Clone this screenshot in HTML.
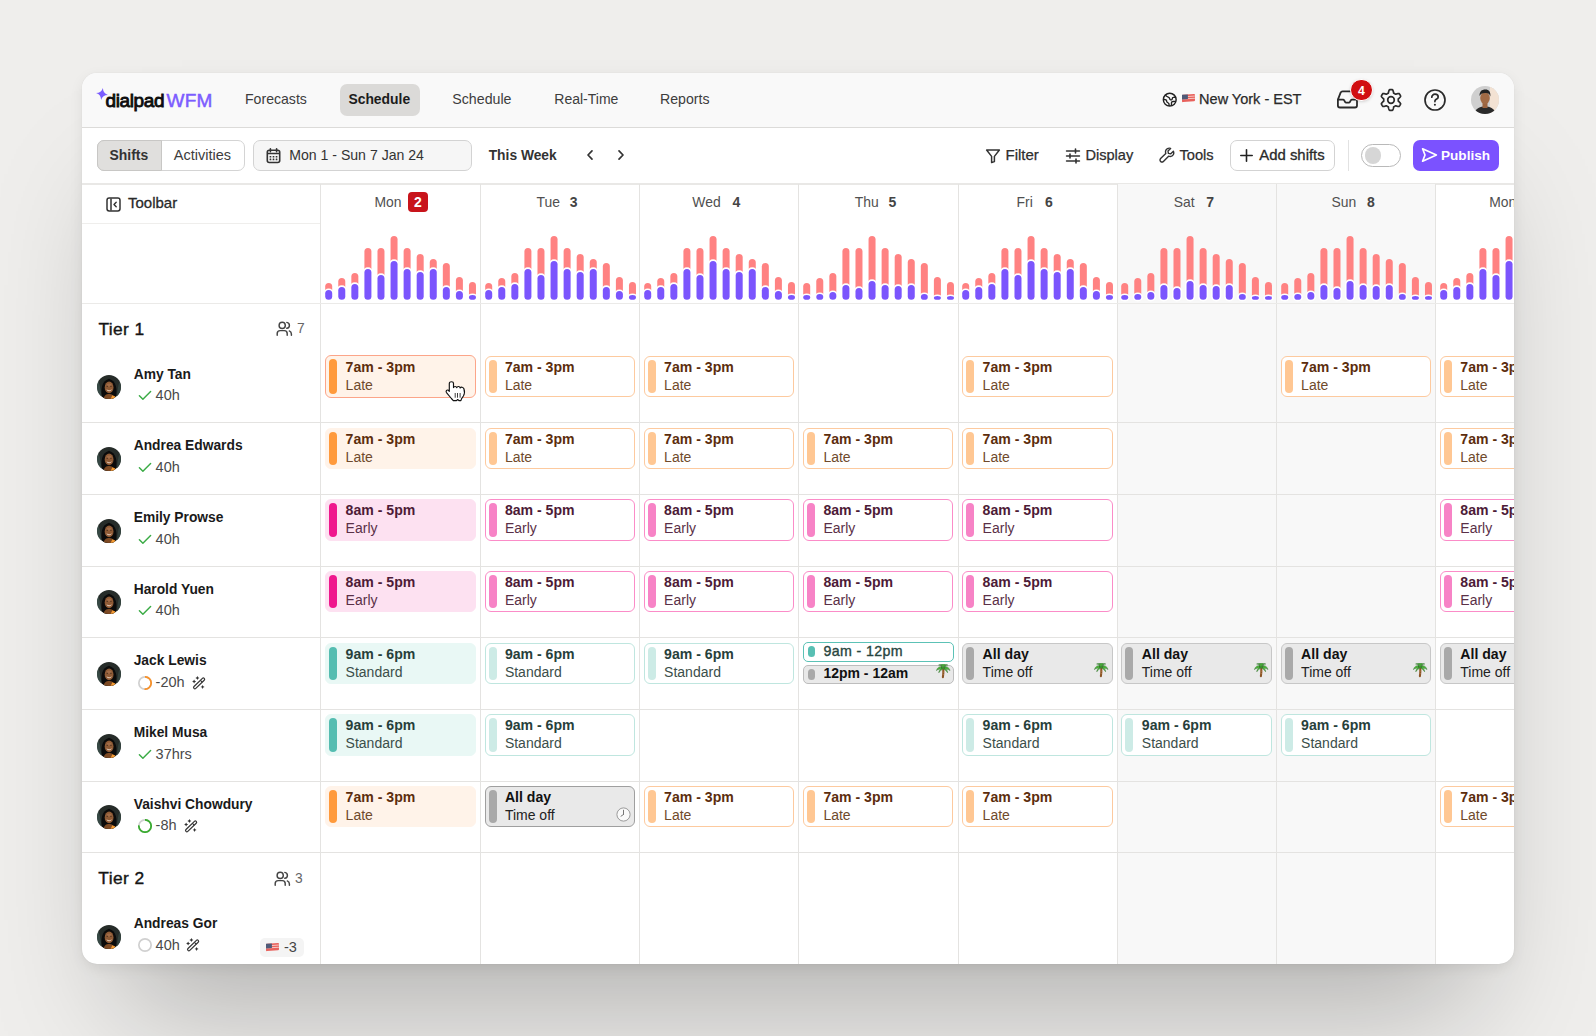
<!DOCTYPE html>
<html><head><meta charset="utf-8"><title>dialpad WFM - Schedule</title>
<style>
*{box-sizing:border-box;margin:0;padding:0}
html,body{width:1596px;height:1036px;overflow:hidden}
body{background:#efeeec;font-family:"Liberation Sans", Arial, sans-serif;color:#1f1f1f;position:relative}
.win{position:absolute;left:82px;top:72.7px;width:1432px;height:891.7px;border-radius:15px;background:#fff;overflow:hidden;
 box-shadow:0 84px 120px -40px rgba(0,0,0,.26),0 4px 14px rgba(0,0,0,.07),0 0 1px rgba(0,0,0,.14)}
.in{position:absolute;left:-82px;top:-72.7px;width:1596px;height:1036px}
.a{position:absolute;display:block}
.t{position:absolute;white-space:nowrap;line-height:1}
.card{position:absolute;border-radius:6px}
.bar{position:absolute;left:3px;top:3px;width:8px;bottom:3px;border-radius:4px}
</style></head><body>
<div class="win"><div class="in">

<div class="a" style="left:82.00px;top:70.00px;width:1432.00px;height:57.00px;background:#f9f9f9"></div>
<div class="a" style="left:82.00px;top:127.00px;width:1432.00px;height:1.00px;background:#dcdbd9"></div>
<svg class="a" style="left:96.40px;top:88.10px;" width="12" height="12" viewBox="0 0 12 12" fill="none"><path transform="rotate(9 6 6)" d="M6 0 C6.6 3.6 8.4 5.4 12 6 C8.4 6.6 6.6 8.4 6 12 C5.4 8.4 3.6 6.6 0 6 C3.6 5.4 5.4 3.6 6 0Z" fill="#7b5cff"/></svg>
<span class="t" style="left:105.6px;top:91.00px;font-size:19px;color:#0d0d0d;letter-spacing:-0.4px;-webkit-text-stroke:0.85px #0d0d0d;">dialpad</span>
<span class="t" style="left:166.6px;top:91.00px;font-size:19px;color:#7c5cff;letter-spacing:0.15px;-webkit-text-stroke:0.5px #7c5cff;">WFM</span>
<span class="t" style="left:245.0px;top:92.00px;font-size:14.1px;color:#3d3d3d;">Forecasts</span>
<div class="a" style="left:340.10px;top:84.20px;width:79.70px;height:31.60px;background:#dbdad8;border-radius:7px"></div>
<span class="t" style="left:348.4px;top:93.00px;font-size:13.9px;font-weight:700;color:#1c1c1c;">Schedule</span>
<span class="t" style="left:452.3px;top:92.00px;font-size:14.2px;color:#3d3d3d;">Schedule</span>
<span class="t" style="left:554.3px;top:92.00px;font-size:14.0px;color:#3d3d3d;">Real-Time</span>
<span class="t" style="left:660.0px;top:92.00px;font-size:14.15px;color:#3d3d3d;">Reports</span>
<svg class="a" style="left:1160.00px;top:90.00px;" width="20" height="20" viewBox="0 0 20 20" fill="none"><circle cx="9.75" cy="9.65" r="6.4" stroke="#222" stroke-width="1.45"/><path d="M5.4 4.6 C5.8 6 6.6 6.6 8.2 7.1 C9.4 7.5 9.6 8.2 9.8 9 C10 9.8 11 10.1 11.8 9.7 C12.5 9.3 12.3 8.2 12.6 7.7 C13 7.2 14 7.2 15.8 7.2" stroke="#222" stroke-width="1.35" stroke-linejoin="round"/><path d="M3.3 9.3 C4.5 9.3 5.6 9.3 6.2 10 C6.8 10.8 6.5 11.8 7.2 12.3 C8.2 13 8.8 13 9 14 L9.1 16" stroke="#222" stroke-width="1.35" stroke-linejoin="round"/><path d="M11.4 15.9 L11.5 12.6 C11.6 11.9 12.1 11.5 12.8 11.5 L15.8 11.4" stroke="#222" stroke-width="1.35" stroke-linejoin="round"/></svg>
<svg class="a" style="left:1182.30px;top:93.60px;overflow:visible" width="13" height="8.4" viewBox="0 0 13 8.4" fill="none"><g transform="skewY(-4)"><rect x="0" y="0.8" width="13" height="7.4" rx="1" fill="#e8615c"/><rect x="0" y="2.4" width="13" height="1" fill="#f6c6c0"/><rect x="0" y="4.6" width="13" height="1" fill="#f6c6c0"/><rect x="0" y="0.8" width="5.9" height="4.6" fill="#4f5a78"/></g></svg>
<span class="t" style="left:1199.1px;top:92.00px;font-size:14.5px;color:#2a2a2a;-webkit-text-stroke:0.25px #2a2a2a;">New York - EST</span>
<svg class="a" style="left:1336.00px;top:90.00px;" width="24" height="20" viewBox="0 0 24 20" fill="none"><path d="M1.9 9.6 L4.6 2.7 Q5.1 1.3 6.6 1.3 L16.4 1.3 Q17.9 1.3 18.4 2.7 L21 9.6" stroke="#2b2b2b" stroke-width="1.8" stroke-linejoin="round"/><path d="M1.9 9.6 L1.9 15.5 Q1.9 17.5 3.9 17.5 L19 17.5 Q21 17.5 21 15.5 L21 9.6 L16 9.6 Q15.2 9.6 14.8 10.4 L14 11.8 Q13.6 12.6 12.8 12.6 L10.2 12.6 Q9.4 12.6 9 11.8 L8.2 10.4 Q7.8 9.6 7 9.6 Z" stroke="#2b2b2b" stroke-width="1.8" stroke-linejoin="round"/></svg>
<div class="a" style="left:1349.90px;top:78.60px;width:22.80px;height:22.80px;background:#d10f12;border-radius:50%;border:1.6px solid #fff;box-shadow:0 1px 3px rgba(0,0,0,.15)"></div>
<span class="t" style="left:1357.9px;top:85.00px;font-size:12.3px;font-weight:700;color:#fff;">4</span>
<svg class="a" style="left:1379.00px;top:88.00px;" width="24" height="24" viewBox="0 0 24 24" fill="none"><path d="M12.00 1.60 L12.27 1.60 L12.54 1.61 L12.82 1.63 L13.09 1.66 L13.36 1.69 L13.61 1.82 L13.82 2.19 L14.00 2.59 L14.16 3.02 L14.29 3.45 L14.40 3.89 L14.50 4.31 L14.58 4.72 L14.65 5.10 L14.79 5.26 L14.97 5.33 L15.14 5.41 L15.31 5.50 L15.48 5.58 L15.65 5.68 L15.81 5.78 L15.98 5.88 L16.13 5.98 L16.29 6.09 L16.44 6.21 L16.65 6.26 L17.02 6.13 L17.41 5.99 L17.82 5.86 L18.26 5.74 L18.70 5.64 L19.15 5.57 L19.59 5.52 L20.01 5.51 L20.25 5.67 L20.41 5.89 L20.57 6.11 L20.72 6.34 L20.87 6.57 L21.01 6.80 L21.14 7.04 L21.27 7.28 L21.39 7.52 L21.50 7.77 L21.61 8.02 L21.62 8.31 L21.40 8.67 L21.15 9.03 L20.86 9.38 L20.55 9.71 L20.23 10.02 L19.91 10.32 L19.59 10.59 L19.30 10.84 L19.24 11.05 L19.26 11.24 L19.28 11.43 L19.29 11.62 L19.30 11.81 L19.30 12.00 L19.30 12.19 L19.29 12.38 L19.28 12.57 L19.26 12.76 L19.24 12.95 L19.30 13.16 L19.59 13.41 L19.91 13.68 L20.23 13.98 L20.55 14.29 L20.86 14.62 L21.15 14.97 L21.40 15.33 L21.62 15.69 L21.61 15.98 L21.50 16.23 L21.39 16.48 L21.27 16.72 L21.14 16.96 L21.01 17.20 L20.87 17.43 L20.72 17.66 L20.57 17.89 L20.41 18.11 L20.25 18.33 L20.01 18.49 L19.59 18.48 L19.15 18.43 L18.70 18.36 L18.26 18.26 L17.82 18.14 L17.41 18.01 L17.02 17.87 L16.65 17.74 L16.44 17.79 L16.29 17.91 L16.13 18.02 L15.98 18.12 L15.81 18.22 L15.65 18.32 L15.48 18.42 L15.31 18.50 L15.14 18.59 L14.97 18.67 L14.79 18.74 L14.65 18.90 L14.58 19.28 L14.50 19.69 L14.40 20.11 L14.29 20.55 L14.16 20.98 L14.00 21.41 L13.82 21.81 L13.61 22.18 L13.36 22.31 L13.09 22.34 L12.82 22.37 L12.54 22.39 L12.27 22.40 L12.00 22.40 L11.73 22.40 L11.46 22.39 L11.18 22.37 L10.91 22.34 L10.64 22.31 L10.39 22.18 L10.18 21.81 L10.00 21.41 L9.84 20.98 L9.71 20.55 L9.60 20.11 L9.50 19.69 L9.42 19.28 L9.35 18.90 L9.21 18.74 L9.03 18.67 L8.86 18.59 L8.69 18.50 L8.52 18.42 L8.35 18.32 L8.19 18.22 L8.02 18.12 L7.87 18.02 L7.71 17.91 L7.56 17.79 L7.35 17.74 L6.98 17.87 L6.59 18.01 L6.18 18.14 L5.74 18.26 L5.30 18.36 L4.85 18.43 L4.41 18.48 L3.99 18.49 L3.75 18.33 L3.59 18.11 L3.43 17.89 L3.28 17.66 L3.13 17.43 L2.99 17.20 L2.86 16.96 L2.73 16.72 L2.61 16.48 L2.50 16.23 L2.39 15.98 L2.38 15.69 L2.60 15.33 L2.85 14.97 L3.14 14.62 L3.45 14.29 L3.77 13.98 L4.09 13.68 L4.41 13.41 L4.70 13.16 L4.76 12.95 L4.74 12.76 L4.72 12.57 L4.71 12.38 L4.70 12.19 L4.70 12.00 L4.70 11.81 L4.71 11.62 L4.72 11.43 L4.74 11.24 L4.76 11.05 L4.70 10.84 L4.41 10.59 L4.09 10.32 L3.77 10.02 L3.45 9.71 L3.14 9.38 L2.85 9.03 L2.60 8.67 L2.38 8.31 L2.39 8.02 L2.50 7.77 L2.61 7.52 L2.73 7.28 L2.86 7.04 L2.99 6.80 L3.13 6.57 L3.28 6.34 L3.43 6.11 L3.59 5.89 L3.75 5.67 L3.99 5.51 L4.41 5.52 L4.85 5.57 L5.30 5.64 L5.74 5.74 L6.18 5.86 L6.59 5.99 L6.98 6.13 L7.35 6.26 L7.56 6.21 L7.71 6.09 L7.87 5.98 L8.02 5.88 L8.19 5.78 L8.35 5.68 L8.52 5.58 L8.69 5.50 L8.86 5.41 L9.03 5.33 L9.21 5.26 L9.35 5.10 L9.42 4.72 L9.50 4.31 L9.60 3.89 L9.71 3.45 L9.84 3.02 L10.00 2.59 L10.18 2.19 L10.39 1.82 L10.64 1.69 L10.91 1.66 L11.18 1.63 L11.46 1.61 L11.73 1.60 L12.00 1.60Z" stroke="#2b2b2b" stroke-width="1.7" stroke-linejoin="round"/><circle cx="12" cy="12" r="3.3" stroke="#2b2b2b" stroke-width="1.7"/></svg>
<svg class="a" style="left:1423.00px;top:88.00px;" width="24" height="24" viewBox="0 0 24 24" fill="none"><circle cx="12" cy="12" r="10" stroke="#2b2b2b" stroke-width="1.7"/><path d="M8.8 9.2 C8.8 7.4 10.2 6.2 12 6.2 C13.8 6.2 15.2 7.4 15.2 9 C15.2 10.6 13.8 11 12.6 11.8 C12 12.2 11.9 12.8 11.9 13.6" stroke="#2b2b2b" stroke-width="1.7" stroke-linecap="round"/><circle cx="11.9" cy="16.7" r="1.05" fill="#2b2b2b"/></svg>
<svg class="a" style="left:1471.00px;top:85.80px;" width="28" height="28" viewBox="0 0 28 28" fill="none"><defs><clipPath id="ca"><circle cx="14" cy="14" r="14"/></clipPath></defs><g clip-path="url(#ca)"><rect width="28" height="28" fill="#cfcfcf"/><rect x="19" width="9" height="28" fill="#f3e2d3"/><path d="M2 30 C4 22 9 20.5 14 20.5 C19 20.5 24 22 26 30Z" fill="#2a2a2a"/><rect x="11.5" y="16" width="5" height="6" fill="#9a6440"/><ellipse cx="14" cy="12" rx="4.8" ry="6" fill="#a06a45"/><path d="M8.6 10 C8.4 5.6 10.6 3.6 14.4 3.6 C18 3.6 19.8 5.8 19.4 10.6 C18.6 8 17.6 7 14 7 C10.8 7 9.6 8 8.6 10Z" fill="#222"/></g></svg>
<div class="a" style="left:82.00px;top:183.00px;width:1432.00px;height:2.00px;background:#e9e8e6"></div>
<div class="a" style="left:97.30px;top:139.80px;width:147.40px;height:31.20px;background:#fff;border:1px solid #d4d4d4;border-radius:7px"></div>
<div class="a" style="left:97.30px;top:139.80px;width:64.60px;height:31.20px;background:#e0dfdd;border:1px solid #c8c7c5;border-radius:7px 0 0 7px"></div>
<span class="t" style="left:109.5px;top:149.00px;font-size:13.95px;font-weight:700;color:#333;">Shifts</span>
<span class="t" style="left:173.8px;top:148.00px;font-size:14.5px;color:#3d3d3d;">Activities</span>
<div class="a" style="left:253.20px;top:139.80px;width:218.50px;height:31.20px;background:#f6f6f6;border:1px solid #d3d3d3;border-radius:7px"></div>
<svg class="a" style="left:265.50px;top:147.50px;" width="15" height="16" viewBox="0 0 15 16" fill="none"><rect x="1.3" y="2.2" width="12.4" height="12.3" rx="2" stroke="#333" stroke-width="1.6"/><path d="M1.5 5.6 H13.5" stroke="#333" stroke-width="1.5"/><path d="M4.4 0.8 V3.8 M10.6 0.8 V3.8" stroke="#333" stroke-width="1.6" stroke-linecap="round"/><g fill="#333"><rect x="3.6" y="7.9" width="1.7" height="1.6" rx=".3"/><rect x="6.65" y="7.9" width="1.7" height="1.6" rx=".3"/><rect x="9.7" y="7.9" width="1.7" height="1.6" rx=".3"/><rect x="3.6" y="10.6" width="1.7" height="1.6" rx=".3"/><rect x="6.65" y="10.6" width="1.7" height="1.6" rx=".3"/><rect x="9.7" y="10.6" width="1.7" height="1.6" rx=".3"/></g></svg>
<span class="t" style="left:289.2px;top:148.00px;font-size:14.1px;color:#333;">Mon 1 - Sun 7 Jan 24</span>
<span class="t" style="left:488.7px;top:149.00px;font-size:13.8px;font-weight:700;color:#333;">This Week</span>
<svg class="a" style="left:585.00px;top:149.00px;" width="10" height="12" viewBox="0 0 10 12" fill="none"><path d="M7 1.8 L3 6 L7 10.2" stroke="#333" stroke-width="1.7" stroke-linecap="round" stroke-linejoin="round"/></svg>
<svg class="a" style="left:616.00px;top:149.00px;" width="10" height="12" viewBox="0 0 10 12" fill="none"><path d="M3 1.8 L7 6 L3 10.2" stroke="#333" stroke-width="1.7" stroke-linecap="round" stroke-linejoin="round"/></svg>
<svg class="a" style="left:984.50px;top:147.50px;" width="16" height="16" viewBox="0 0 16 16" fill="none"><path d="M1.6 2 H14.4 L9.4 8.4 V13.6 L6.6 14.6 V8.4 Z" stroke="#333" stroke-width="1.5" stroke-linejoin="round"/></svg>
<span class="t" style="left:1005.5px;top:147.00px;font-size:15.0px;color:#2e2e2e;-webkit-text-stroke:0.25px #2e2e2e;">Filter</span>
<svg class="a" style="left:1064.50px;top:147.50px;" width="16" height="16" viewBox="0 0 16 16" fill="none"><path d="M1.5 3 H14.5 M1.5 8 H14.5 M1.5 13 H14.5" stroke="#333" stroke-width="1.4" stroke-linecap="round"/><path d="M10.5 1 V5 M5 6 V10 M11 11 V15" stroke="#333" stroke-width="1.6" stroke-linecap="round"/></svg>
<span class="t" style="left:1085.4px;top:148.00px;font-size:14.6px;color:#2e2e2e;-webkit-text-stroke:0.25px #2e2e2e;">Display</span>
<svg class="a" style="left:1159.00px;top:147.00px;" width="16" height="16" viewBox="0 0 16 16" fill="none"><path d="M14.4 4.2 L11.8 6.8 L9.4 6.4 L9 4 L11.6 1.4 C9.4 0.6 7 1.8 6.6 4 C6.4 5 6.6 5.8 6.8 6.4 L1.6 11.6 C0.8 12.4 0.8 13.6 1.6 14.4 C2.4 15.2 3.6 15.2 4.4 14.4 L9.6 9.2 C10.2 9.4 11 9.6 12 9.4 C14.2 9 15.4 6.6 14.4 4.2Z" stroke="#333" stroke-width="1.4" stroke-linejoin="round"/></svg>
<span class="t" style="left:1179.4px;top:148.00px;font-size:14.7px;color:#2e2e2e;-webkit-text-stroke:0.25px #2e2e2e;">Tools</span>
<div class="a" style="left:1230.40px;top:140.40px;width:105.10px;height:30.30px;background:#fff;border:1px solid #d3d3d3;border-radius:7px"></div>
<svg class="a" style="left:1239.50px;top:149.00px;" width="13" height="13" viewBox="0 0 13 13" fill="none"><path d="M6.5 0.8 V12.2 M0.8 6.5 H12.2" stroke="#222" stroke-width="1.6" stroke-linecap="round"/></svg>
<span class="t" style="left:1259.3px;top:148.00px;font-size:14.9px;color:#2a2a2a;-webkit-text-stroke:0.3px #2a2a2a;">Add shifts</span>
<div class="a" style="left:1348.00px;top:140.00px;width:1.00px;height:31.00px;background:#e2e2e2"></div>
<div class="a" style="left:1361.00px;top:143.80px;width:39.50px;height:23.50px;background:#fff;border:1.2px solid #b9b9b9;border-radius:12px"></div>
<div class="a" style="left:1364.50px;top:147.40px;width:16.30px;height:16.30px;background:#d6d6d6;border-radius:50%"></div>
<div class="a" style="left:1413.00px;top:139.60px;width:85.50px;height:31.40px;background:#7b52ff;border-radius:7px"></div>
<svg class="a" style="left:1420.50px;top:147.00px;" width="17" height="16" viewBox="0 0 17 16" fill="none"><path d="M1.6 1.8 L15.4 8 L1.6 14.2 L4 8 Z" stroke="#fff" stroke-width="1.7" stroke-linejoin="round" stroke-linecap="round"/></svg>
<span class="t" style="left:1441.0px;top:149.00px;font-size:13.6px;font-weight:700;color:#fff;">Publish</span>
<div class="a" style="left:1118.00px;top:184.00px;width:317.00px;height:781.00px;background:#f8f8f8"></div>
<div class="a" style="left:320.00px;top:184.00px;width:1.00px;height:781.00px;background:#e4e3e1"></div>
<div class="a" style="left:480.00px;top:184.00px;width:1.00px;height:781.00px;background:#e4e3e1"></div>
<div class="a" style="left:639.00px;top:184.00px;width:1.00px;height:781.00px;background:#e4e3e1"></div>
<div class="a" style="left:798.00px;top:184.00px;width:1.00px;height:781.00px;background:#e4e3e1"></div>
<div class="a" style="left:958.00px;top:184.00px;width:1.00px;height:781.00px;background:#e4e3e1"></div>
<div class="a" style="left:1117.00px;top:184.00px;width:1.00px;height:781.00px;background:#e4e3e1"></div>
<div class="a" style="left:1276.00px;top:184.00px;width:1.00px;height:781.00px;background:#e4e3e1"></div>
<div class="a" style="left:1435.00px;top:184.00px;width:1.00px;height:781.00px;background:#e4e3e1"></div>
<div class="a" style="left:82.00px;top:223.00px;width:238.00px;height:1.00px;background:#efeeec"></div>
<div class="a" style="left:82.00px;top:303.00px;width:1432.00px;height:1.00px;background:#ebeae8"></div>
<div class="a" style="left:82.00px;top:422.00px;width:1432.00px;height:1.00px;background:#e4e3e1"></div>
<div class="a" style="left:82.00px;top:494.00px;width:1432.00px;height:1.00px;background:#e4e3e1"></div>
<div class="a" style="left:82.00px;top:566.00px;width:1432.00px;height:1.00px;background:#e4e3e1"></div>
<div class="a" style="left:82.00px;top:637.00px;width:1432.00px;height:1.00px;background:#e4e3e1"></div>
<div class="a" style="left:82.00px;top:709.00px;width:1432.00px;height:1.00px;background:#e4e3e1"></div>
<div class="a" style="left:82.00px;top:781.00px;width:1432.00px;height:1.00px;background:#e4e3e1"></div>
<div class="a" style="left:82.00px;top:852.00px;width:1432.00px;height:1.00px;background:#e4e3e1"></div>
<svg class="a" style="left:105.50px;top:196.50px;" width="15" height="15" viewBox="0 0 15 15" fill="none"><rect x="1" y="1" width="13" height="13" rx="2.2" stroke="#333" stroke-width="1.5"/><path d="M5 1.5 V13.5" stroke="#333" stroke-width="1.5"/><path d="M10.2 5.2 L8 7.5 L10.2 9.8" stroke="#333" stroke-width="1.4" stroke-linecap="round" stroke-linejoin="round"/></svg>
<span class="t" style="left:128.0px;top:195.00px;font-size:15.0px;color:#2a2a2a;-webkit-text-stroke:0.3px #2a2a2a;">Toolbar</span>
<span class="t" style="left:374.4px;top:196.00px;font-size:13.9px;color:#505050;">Mon</span>
<div class="a" style="left:407.77px;top:192.20px;width:20.00px;height:20.20px;background:#c8141b;border-radius:4px"></div>
<span class="t" style="left:414.0px;top:195.00px;font-size:14px;font-weight:700;color:#fff;">2</span>
<svg class="a" style="left:320.65px;top:184.00px;" width="159" height="119" viewBox="0 0 159 119" fill="none"><rect x="4.20" y="98.90" width="7" height="16.90" rx="3.5" fill="#ff8282"/><rect x="2.60" y="104.40" width="10.2" height="13.00" rx="5.1" fill="#fff"/><rect x="4.20" y="106.00" width="7" height="9.80" rx="3.5" fill="#7b55fd"/><rect x="17.27" y="93.90" width="7" height="21.90" rx="3.5" fill="#ff8282"/><rect x="15.67" y="101.30" width="10.2" height="16.10" rx="5.1" fill="#fff"/><rect x="17.27" y="102.90" width="7" height="12.90" rx="3.5" fill="#7b55fd"/><rect x="30.34" y="88.90" width="7" height="26.90" rx="3.5" fill="#ff8282"/><rect x="28.74" y="98.30" width="10.2" height="19.10" rx="5.1" fill="#fff"/><rect x="30.34" y="99.90" width="7" height="15.90" rx="3.5" fill="#7b55fd"/><rect x="43.41" y="64.00" width="7" height="51.80" rx="3.5" fill="#ff8282"/><rect x="41.81" y="83.30" width="10.2" height="34.10" rx="5.1" fill="#fff"/><rect x="43.41" y="84.90" width="7" height="30.90" rx="3.5" fill="#7b55fd"/><rect x="56.48" y="64.00" width="7" height="51.80" rx="3.5" fill="#ff8282"/><rect x="54.88" y="89.30" width="10.2" height="28.10" rx="5.1" fill="#fff"/><rect x="56.48" y="90.90" width="7" height="24.90" rx="3.5" fill="#7b55fd"/><rect x="69.55" y="52.00" width="7" height="63.80" rx="3.5" fill="#ff8282"/><rect x="67.95" y="75.30" width="10.2" height="42.10" rx="5.1" fill="#fff"/><rect x="69.55" y="76.90" width="7" height="38.90" rx="3.5" fill="#7b55fd"/><rect x="82.62" y="64.00" width="7" height="51.80" rx="3.5" fill="#ff8282"/><rect x="81.02" y="83.30" width="10.2" height="34.10" rx="5.1" fill="#fff"/><rect x="82.62" y="84.90" width="7" height="30.90" rx="3.5" fill="#7b55fd"/><rect x="95.69" y="70.10" width="7" height="45.70" rx="3.5" fill="#ff8282"/><rect x="94.09" y="86.30" width="10.2" height="31.10" rx="5.1" fill="#fff"/><rect x="95.69" y="87.90" width="7" height="27.90" rx="3.5" fill="#7b55fd"/><rect x="108.76" y="75.10" width="7" height="40.70" rx="3.5" fill="#ff8282"/><rect x="107.16" y="83.30" width="10.2" height="34.10" rx="5.1" fill="#fff"/><rect x="108.76" y="84.90" width="7" height="30.90" rx="3.5" fill="#7b55fd"/><rect x="121.83" y="78.90" width="7" height="36.90" rx="3.5" fill="#ff8282"/><rect x="120.23" y="101.30" width="10.2" height="16.10" rx="5.1" fill="#fff"/><rect x="121.83" y="102.90" width="7" height="12.90" rx="3.5" fill="#7b55fd"/><rect x="134.90" y="92.90" width="7" height="22.90" rx="3.5" fill="#ff8282"/><rect x="133.30" y="105.40" width="10.2" height="12.00" rx="5.1" fill="#fff"/><rect x="134.90" y="107.00" width="7" height="8.80" rx="3.5" fill="#7b55fd"/><rect x="147.97" y="97.90" width="7" height="17.90" rx="3.5" fill="#ff8282"/><rect x="146.37" y="109.40" width="10.2" height="8.00" rx="5.1" fill="#fff"/><rect x="147.97" y="111.00" width="7" height="4.80" rx="3.5" fill="#7b55fd"/></svg>
<span class="t" style="left:536.5px;top:196.00px;font-size:13.9px;color:#505050;">Tue</span>
<span class="t" style="left:569.8px;top:195.00px;font-size:14px;font-weight:700;color:#444;">3</span>
<svg class="a" style="left:480.50px;top:184.00px;" width="159" height="119" viewBox="0 0 159 119" fill="none"><rect x="4.20" y="98.90" width="7" height="16.90" rx="3.5" fill="#ff8282"/><rect x="2.60" y="104.40" width="10.2" height="13.00" rx="5.1" fill="#fff"/><rect x="4.20" y="106.00" width="7" height="9.80" rx="3.5" fill="#7b55fd"/><rect x="17.27" y="93.90" width="7" height="21.90" rx="3.5" fill="#ff8282"/><rect x="15.67" y="101.30" width="10.2" height="16.10" rx="5.1" fill="#fff"/><rect x="17.27" y="102.90" width="7" height="12.90" rx="3.5" fill="#7b55fd"/><rect x="30.34" y="88.90" width="7" height="26.90" rx="3.5" fill="#ff8282"/><rect x="28.74" y="98.30" width="10.2" height="19.10" rx="5.1" fill="#fff"/><rect x="30.34" y="99.90" width="7" height="15.90" rx="3.5" fill="#7b55fd"/><rect x="43.41" y="64.00" width="7" height="51.80" rx="3.5" fill="#ff8282"/><rect x="41.81" y="83.30" width="10.2" height="34.10" rx="5.1" fill="#fff"/><rect x="43.41" y="84.90" width="7" height="30.90" rx="3.5" fill="#7b55fd"/><rect x="56.48" y="64.00" width="7" height="51.80" rx="3.5" fill="#ff8282"/><rect x="54.88" y="89.30" width="10.2" height="28.10" rx="5.1" fill="#fff"/><rect x="56.48" y="90.90" width="7" height="24.90" rx="3.5" fill="#7b55fd"/><rect x="69.55" y="52.00" width="7" height="63.80" rx="3.5" fill="#ff8282"/><rect x="67.95" y="75.30" width="10.2" height="42.10" rx="5.1" fill="#fff"/><rect x="69.55" y="76.90" width="7" height="38.90" rx="3.5" fill="#7b55fd"/><rect x="82.62" y="64.00" width="7" height="51.80" rx="3.5" fill="#ff8282"/><rect x="81.02" y="83.30" width="10.2" height="34.10" rx="5.1" fill="#fff"/><rect x="82.62" y="84.90" width="7" height="30.90" rx="3.5" fill="#7b55fd"/><rect x="95.69" y="70.10" width="7" height="45.70" rx="3.5" fill="#ff8282"/><rect x="94.09" y="86.30" width="10.2" height="31.10" rx="5.1" fill="#fff"/><rect x="95.69" y="87.90" width="7" height="27.90" rx="3.5" fill="#7b55fd"/><rect x="108.76" y="75.10" width="7" height="40.70" rx="3.5" fill="#ff8282"/><rect x="107.16" y="83.30" width="10.2" height="34.10" rx="5.1" fill="#fff"/><rect x="108.76" y="84.90" width="7" height="30.90" rx="3.5" fill="#7b55fd"/><rect x="121.83" y="78.90" width="7" height="36.90" rx="3.5" fill="#ff8282"/><rect x="120.23" y="101.30" width="10.2" height="16.10" rx="5.1" fill="#fff"/><rect x="121.83" y="102.90" width="7" height="12.90" rx="3.5" fill="#7b55fd"/><rect x="134.90" y="92.90" width="7" height="22.90" rx="3.5" fill="#ff8282"/><rect x="133.30" y="105.40" width="10.2" height="12.00" rx="5.1" fill="#fff"/><rect x="134.90" y="107.00" width="7" height="8.80" rx="3.5" fill="#7b55fd"/><rect x="147.97" y="97.90" width="7" height="17.90" rx="3.5" fill="#ff8282"/><rect x="146.37" y="109.40" width="10.2" height="8.00" rx="5.1" fill="#fff"/><rect x="147.97" y="111.00" width="7" height="4.80" rx="3.5" fill="#7b55fd"/></svg>
<span class="t" style="left:692.3px;top:196.00px;font-size:13.9px;color:#505050;">Wed</span>
<span class="t" style="left:732.4px;top:195.00px;font-size:14px;font-weight:700;color:#444;">4</span>
<svg class="a" style="left:639.73px;top:184.00px;" width="159" height="119" viewBox="0 0 159 119" fill="none"><rect x="4.20" y="98.90" width="7" height="16.90" rx="3.5" fill="#ff8282"/><rect x="2.60" y="104.40" width="10.2" height="13.00" rx="5.1" fill="#fff"/><rect x="4.20" y="106.00" width="7" height="9.80" rx="3.5" fill="#7b55fd"/><rect x="17.27" y="93.90" width="7" height="21.90" rx="3.5" fill="#ff8282"/><rect x="15.67" y="101.30" width="10.2" height="16.10" rx="5.1" fill="#fff"/><rect x="17.27" y="102.90" width="7" height="12.90" rx="3.5" fill="#7b55fd"/><rect x="30.34" y="88.90" width="7" height="26.90" rx="3.5" fill="#ff8282"/><rect x="28.74" y="98.30" width="10.2" height="19.10" rx="5.1" fill="#fff"/><rect x="30.34" y="99.90" width="7" height="15.90" rx="3.5" fill="#7b55fd"/><rect x="43.41" y="64.00" width="7" height="51.80" rx="3.5" fill="#ff8282"/><rect x="41.81" y="83.30" width="10.2" height="34.10" rx="5.1" fill="#fff"/><rect x="43.41" y="84.90" width="7" height="30.90" rx="3.5" fill="#7b55fd"/><rect x="56.48" y="64.00" width="7" height="51.80" rx="3.5" fill="#ff8282"/><rect x="54.88" y="89.30" width="10.2" height="28.10" rx="5.1" fill="#fff"/><rect x="56.48" y="90.90" width="7" height="24.90" rx="3.5" fill="#7b55fd"/><rect x="69.55" y="52.00" width="7" height="63.80" rx="3.5" fill="#ff8282"/><rect x="67.95" y="75.30" width="10.2" height="42.10" rx="5.1" fill="#fff"/><rect x="69.55" y="76.90" width="7" height="38.90" rx="3.5" fill="#7b55fd"/><rect x="82.62" y="64.00" width="7" height="51.80" rx="3.5" fill="#ff8282"/><rect x="81.02" y="83.30" width="10.2" height="34.10" rx="5.1" fill="#fff"/><rect x="82.62" y="84.90" width="7" height="30.90" rx="3.5" fill="#7b55fd"/><rect x="95.69" y="70.10" width="7" height="45.70" rx="3.5" fill="#ff8282"/><rect x="94.09" y="86.30" width="10.2" height="31.10" rx="5.1" fill="#fff"/><rect x="95.69" y="87.90" width="7" height="27.90" rx="3.5" fill="#7b55fd"/><rect x="108.76" y="75.10" width="7" height="40.70" rx="3.5" fill="#ff8282"/><rect x="107.16" y="83.30" width="10.2" height="34.10" rx="5.1" fill="#fff"/><rect x="108.76" y="84.90" width="7" height="30.90" rx="3.5" fill="#7b55fd"/><rect x="121.83" y="78.90" width="7" height="36.90" rx="3.5" fill="#ff8282"/><rect x="120.23" y="101.30" width="10.2" height="16.10" rx="5.1" fill="#fff"/><rect x="121.83" y="102.90" width="7" height="12.90" rx="3.5" fill="#7b55fd"/><rect x="134.90" y="92.90" width="7" height="22.90" rx="3.5" fill="#ff8282"/><rect x="133.30" y="105.40" width="10.2" height="12.00" rx="5.1" fill="#fff"/><rect x="134.90" y="107.00" width="7" height="8.80" rx="3.5" fill="#7b55fd"/><rect x="147.97" y="97.90" width="7" height="17.90" rx="3.5" fill="#ff8282"/><rect x="146.37" y="109.40" width="10.2" height="8.00" rx="5.1" fill="#fff"/><rect x="147.97" y="111.00" width="7" height="4.80" rx="3.5" fill="#7b55fd"/></svg>
<span class="t" style="left:854.7px;top:196.00px;font-size:13.9px;color:#505050;">Thu</span>
<span class="t" style="left:888.5px;top:195.00px;font-size:14px;font-weight:700;color:#444;">5</span>
<svg class="a" style="left:798.96px;top:184.00px;" width="159" height="119" viewBox="0 0 159 119" fill="none"><rect x="4.20" y="98.90" width="7" height="16.90" rx="3.5" fill="#ff8282"/><rect x="2.60" y="109.40" width="10.2" height="8.00" rx="5.1" fill="#fff"/><rect x="4.20" y="111.00" width="7" height="4.80" rx="3.5" fill="#7b55fd"/><rect x="17.27" y="93.90" width="7" height="21.90" rx="3.5" fill="#ff8282"/><rect x="15.67" y="108.40" width="10.2" height="9.00" rx="5.1" fill="#fff"/><rect x="17.27" y="110.00" width="7" height="5.80" rx="3.5" fill="#7b55fd"/><rect x="30.34" y="88.90" width="7" height="26.90" rx="3.5" fill="#ff8282"/><rect x="28.74" y="106.40" width="10.2" height="11.00" rx="5.1" fill="#fff"/><rect x="30.34" y="108.00" width="7" height="7.80" rx="3.5" fill="#7b55fd"/><rect x="43.41" y="64.00" width="7" height="51.80" rx="3.5" fill="#ff8282"/><rect x="41.81" y="99.30" width="10.2" height="18.10" rx="5.1" fill="#fff"/><rect x="43.41" y="100.90" width="7" height="14.90" rx="3.5" fill="#7b55fd"/><rect x="56.48" y="64.00" width="7" height="51.80" rx="3.5" fill="#ff8282"/><rect x="54.88" y="102.30" width="10.2" height="15.10" rx="5.1" fill="#fff"/><rect x="56.48" y="103.90" width="7" height="11.90" rx="3.5" fill="#7b55fd"/><rect x="69.55" y="52.00" width="7" height="63.80" rx="3.5" fill="#ff8282"/><rect x="67.95" y="95.30" width="10.2" height="22.10" rx="5.1" fill="#fff"/><rect x="69.55" y="96.90" width="7" height="18.90" rx="3.5" fill="#7b55fd"/><rect x="82.62" y="64.00" width="7" height="51.80" rx="3.5" fill="#ff8282"/><rect x="81.02" y="99.30" width="10.2" height="18.10" rx="5.1" fill="#fff"/><rect x="82.62" y="100.90" width="7" height="14.90" rx="3.5" fill="#7b55fd"/><rect x="95.69" y="70.10" width="7" height="45.70" rx="3.5" fill="#ff8282"/><rect x="94.09" y="100.30" width="10.2" height="17.10" rx="5.1" fill="#fff"/><rect x="95.69" y="101.90" width="7" height="13.90" rx="3.5" fill="#7b55fd"/><rect x="108.76" y="75.10" width="7" height="40.70" rx="3.5" fill="#ff8282"/><rect x="107.16" y="99.30" width="10.2" height="18.10" rx="5.1" fill="#fff"/><rect x="108.76" y="100.90" width="7" height="14.90" rx="3.5" fill="#7b55fd"/><rect x="121.83" y="78.90" width="7" height="36.90" rx="3.5" fill="#ff8282"/><rect x="120.23" y="108.40" width="10.2" height="9.00" rx="5.1" fill="#fff"/><rect x="121.83" y="110.00" width="7" height="5.80" rx="3.5" fill="#7b55fd"/><rect x="134.90" y="92.90" width="7" height="22.90" rx="3.5" fill="#ff8282"/><rect x="133.30" y="110.40" width="10.2" height="7.00" rx="5.1" fill="#fff"/><rect x="134.90" y="112.00" width="7" height="3.80" rx="3.5" fill="#7b55fd"/><rect x="147.97" y="97.90" width="7" height="17.90" rx="3.5" fill="#ff8282"/><rect x="146.37" y="110.40" width="10.2" height="7.00" rx="5.1" fill="#fff"/><rect x="147.97" y="112.00" width="7" height="3.80" rx="3.5" fill="#7b55fd"/></svg>
<span class="t" style="left:1016.6px;top:196.00px;font-size:13.9px;color:#505050;">Fri</span>
<span class="t" style="left:1045.1px;top:195.00px;font-size:14px;font-weight:700;color:#444;">6</span>
<svg class="a" style="left:958.19px;top:184.00px;" width="159" height="119" viewBox="0 0 159 119" fill="none"><rect x="4.20" y="98.90" width="7" height="16.90" rx="3.5" fill="#ff8282"/><rect x="2.60" y="104.40" width="10.2" height="13.00" rx="5.1" fill="#fff"/><rect x="4.20" y="106.00" width="7" height="9.80" rx="3.5" fill="#7b55fd"/><rect x="17.27" y="93.90" width="7" height="21.90" rx="3.5" fill="#ff8282"/><rect x="15.67" y="101.30" width="10.2" height="16.10" rx="5.1" fill="#fff"/><rect x="17.27" y="102.90" width="7" height="12.90" rx="3.5" fill="#7b55fd"/><rect x="30.34" y="88.90" width="7" height="26.90" rx="3.5" fill="#ff8282"/><rect x="28.74" y="98.30" width="10.2" height="19.10" rx="5.1" fill="#fff"/><rect x="30.34" y="99.90" width="7" height="15.90" rx="3.5" fill="#7b55fd"/><rect x="43.41" y="64.00" width="7" height="51.80" rx="3.5" fill="#ff8282"/><rect x="41.81" y="83.30" width="10.2" height="34.10" rx="5.1" fill="#fff"/><rect x="43.41" y="84.90" width="7" height="30.90" rx="3.5" fill="#7b55fd"/><rect x="56.48" y="64.00" width="7" height="51.80" rx="3.5" fill="#ff8282"/><rect x="54.88" y="89.30" width="10.2" height="28.10" rx="5.1" fill="#fff"/><rect x="56.48" y="90.90" width="7" height="24.90" rx="3.5" fill="#7b55fd"/><rect x="69.55" y="52.00" width="7" height="63.80" rx="3.5" fill="#ff8282"/><rect x="67.95" y="75.30" width="10.2" height="42.10" rx="5.1" fill="#fff"/><rect x="69.55" y="76.90" width="7" height="38.90" rx="3.5" fill="#7b55fd"/><rect x="82.62" y="64.00" width="7" height="51.80" rx="3.5" fill="#ff8282"/><rect x="81.02" y="83.30" width="10.2" height="34.10" rx="5.1" fill="#fff"/><rect x="82.62" y="84.90" width="7" height="30.90" rx="3.5" fill="#7b55fd"/><rect x="95.69" y="70.10" width="7" height="45.70" rx="3.5" fill="#ff8282"/><rect x="94.09" y="86.30" width="10.2" height="31.10" rx="5.1" fill="#fff"/><rect x="95.69" y="87.90" width="7" height="27.90" rx="3.5" fill="#7b55fd"/><rect x="108.76" y="75.10" width="7" height="40.70" rx="3.5" fill="#ff8282"/><rect x="107.16" y="83.30" width="10.2" height="34.10" rx="5.1" fill="#fff"/><rect x="108.76" y="84.90" width="7" height="30.90" rx="3.5" fill="#7b55fd"/><rect x="121.83" y="78.90" width="7" height="36.90" rx="3.5" fill="#ff8282"/><rect x="120.23" y="101.30" width="10.2" height="16.10" rx="5.1" fill="#fff"/><rect x="121.83" y="102.90" width="7" height="12.90" rx="3.5" fill="#7b55fd"/><rect x="134.90" y="92.90" width="7" height="22.90" rx="3.5" fill="#ff8282"/><rect x="133.30" y="105.40" width="10.2" height="12.00" rx="5.1" fill="#fff"/><rect x="134.90" y="107.00" width="7" height="8.80" rx="3.5" fill="#7b55fd"/><rect x="147.97" y="97.90" width="7" height="17.90" rx="3.5" fill="#ff8282"/><rect x="146.37" y="109.40" width="10.2" height="8.00" rx="5.1" fill="#fff"/><rect x="147.97" y="111.00" width="7" height="4.80" rx="3.5" fill="#7b55fd"/></svg>
<span class="t" style="left:1173.8px;top:196.00px;font-size:13.9px;color:#505050;">Sat</span>
<span class="t" style="left:1206.3px;top:195.00px;font-size:14px;font-weight:700;color:#444;">7</span>
<svg class="a" style="left:1117.42px;top:184.00px;" width="159" height="119" viewBox="0 0 159 119" fill="none"><rect x="4.20" y="98.90" width="7" height="16.90" rx="3.5" fill="#ff8282"/><rect x="2.60" y="109.40" width="10.2" height="8.00" rx="5.1" fill="#fff"/><rect x="4.20" y="111.00" width="7" height="4.80" rx="3.5" fill="#7b55fd"/><rect x="17.27" y="93.90" width="7" height="21.90" rx="3.5" fill="#ff8282"/><rect x="15.67" y="108.40" width="10.2" height="9.00" rx="5.1" fill="#fff"/><rect x="17.27" y="110.00" width="7" height="5.80" rx="3.5" fill="#7b55fd"/><rect x="30.34" y="88.90" width="7" height="26.90" rx="3.5" fill="#ff8282"/><rect x="28.74" y="106.40" width="10.2" height="11.00" rx="5.1" fill="#fff"/><rect x="30.34" y="108.00" width="7" height="7.80" rx="3.5" fill="#7b55fd"/><rect x="43.41" y="64.00" width="7" height="51.80" rx="3.5" fill="#ff8282"/><rect x="41.81" y="99.30" width="10.2" height="18.10" rx="5.1" fill="#fff"/><rect x="43.41" y="100.90" width="7" height="14.90" rx="3.5" fill="#7b55fd"/><rect x="56.48" y="64.00" width="7" height="51.80" rx="3.5" fill="#ff8282"/><rect x="54.88" y="102.30" width="10.2" height="15.10" rx="5.1" fill="#fff"/><rect x="56.48" y="103.90" width="7" height="11.90" rx="3.5" fill="#7b55fd"/><rect x="69.55" y="52.00" width="7" height="63.80" rx="3.5" fill="#ff8282"/><rect x="67.95" y="95.30" width="10.2" height="22.10" rx="5.1" fill="#fff"/><rect x="69.55" y="96.90" width="7" height="18.90" rx="3.5" fill="#7b55fd"/><rect x="82.62" y="64.00" width="7" height="51.80" rx="3.5" fill="#ff8282"/><rect x="81.02" y="99.30" width="10.2" height="18.10" rx="5.1" fill="#fff"/><rect x="82.62" y="100.90" width="7" height="14.90" rx="3.5" fill="#7b55fd"/><rect x="95.69" y="70.10" width="7" height="45.70" rx="3.5" fill="#ff8282"/><rect x="94.09" y="100.30" width="10.2" height="17.10" rx="5.1" fill="#fff"/><rect x="95.69" y="101.90" width="7" height="13.90" rx="3.5" fill="#7b55fd"/><rect x="108.76" y="75.10" width="7" height="40.70" rx="3.5" fill="#ff8282"/><rect x="107.16" y="99.30" width="10.2" height="18.10" rx="5.1" fill="#fff"/><rect x="108.76" y="100.90" width="7" height="14.90" rx="3.5" fill="#7b55fd"/><rect x="121.83" y="78.90" width="7" height="36.90" rx="3.5" fill="#ff8282"/><rect x="120.23" y="108.40" width="10.2" height="9.00" rx="5.1" fill="#fff"/><rect x="121.83" y="110.00" width="7" height="5.80" rx="3.5" fill="#7b55fd"/><rect x="134.90" y="92.90" width="7" height="22.90" rx="3.5" fill="#ff8282"/><rect x="133.30" y="110.40" width="10.2" height="7.00" rx="5.1" fill="#fff"/><rect x="134.90" y="112.00" width="7" height="3.80" rx="3.5" fill="#7b55fd"/><rect x="147.97" y="97.90" width="7" height="17.90" rx="3.5" fill="#ff8282"/><rect x="146.37" y="110.40" width="10.2" height="7.00" rx="5.1" fill="#fff"/><rect x="147.97" y="112.00" width="7" height="3.80" rx="3.5" fill="#7b55fd"/></svg>
<span class="t" style="left:1331.6px;top:196.00px;font-size:13.9px;color:#505050;">Sun</span>
<span class="t" style="left:1366.9px;top:195.00px;font-size:14px;font-weight:700;color:#444;">8</span>
<svg class="a" style="left:1276.65px;top:184.00px;" width="159" height="119" viewBox="0 0 159 119" fill="none"><rect x="4.20" y="98.90" width="7" height="16.90" rx="3.5" fill="#ff8282"/><rect x="2.60" y="109.40" width="10.2" height="8.00" rx="5.1" fill="#fff"/><rect x="4.20" y="111.00" width="7" height="4.80" rx="3.5" fill="#7b55fd"/><rect x="17.27" y="93.90" width="7" height="21.90" rx="3.5" fill="#ff8282"/><rect x="15.67" y="108.40" width="10.2" height="9.00" rx="5.1" fill="#fff"/><rect x="17.27" y="110.00" width="7" height="5.80" rx="3.5" fill="#7b55fd"/><rect x="30.34" y="88.90" width="7" height="26.90" rx="3.5" fill="#ff8282"/><rect x="28.74" y="106.40" width="10.2" height="11.00" rx="5.1" fill="#fff"/><rect x="30.34" y="108.00" width="7" height="7.80" rx="3.5" fill="#7b55fd"/><rect x="43.41" y="64.00" width="7" height="51.80" rx="3.5" fill="#ff8282"/><rect x="41.81" y="99.30" width="10.2" height="18.10" rx="5.1" fill="#fff"/><rect x="43.41" y="100.90" width="7" height="14.90" rx="3.5" fill="#7b55fd"/><rect x="56.48" y="64.00" width="7" height="51.80" rx="3.5" fill="#ff8282"/><rect x="54.88" y="102.30" width="10.2" height="15.10" rx="5.1" fill="#fff"/><rect x="56.48" y="103.90" width="7" height="11.90" rx="3.5" fill="#7b55fd"/><rect x="69.55" y="52.00" width="7" height="63.80" rx="3.5" fill="#ff8282"/><rect x="67.95" y="95.30" width="10.2" height="22.10" rx="5.1" fill="#fff"/><rect x="69.55" y="96.90" width="7" height="18.90" rx="3.5" fill="#7b55fd"/><rect x="82.62" y="64.00" width="7" height="51.80" rx="3.5" fill="#ff8282"/><rect x="81.02" y="99.30" width="10.2" height="18.10" rx="5.1" fill="#fff"/><rect x="82.62" y="100.90" width="7" height="14.90" rx="3.5" fill="#7b55fd"/><rect x="95.69" y="70.10" width="7" height="45.70" rx="3.5" fill="#ff8282"/><rect x="94.09" y="100.30" width="10.2" height="17.10" rx="5.1" fill="#fff"/><rect x="95.69" y="101.90" width="7" height="13.90" rx="3.5" fill="#7b55fd"/><rect x="108.76" y="75.10" width="7" height="40.70" rx="3.5" fill="#ff8282"/><rect x="107.16" y="99.30" width="10.2" height="18.10" rx="5.1" fill="#fff"/><rect x="108.76" y="100.90" width="7" height="14.90" rx="3.5" fill="#7b55fd"/><rect x="121.83" y="78.90" width="7" height="36.90" rx="3.5" fill="#ff8282"/><rect x="120.23" y="108.40" width="10.2" height="9.00" rx="5.1" fill="#fff"/><rect x="121.83" y="110.00" width="7" height="5.80" rx="3.5" fill="#7b55fd"/><rect x="134.90" y="92.90" width="7" height="22.90" rx="3.5" fill="#ff8282"/><rect x="133.30" y="110.40" width="10.2" height="7.00" rx="5.1" fill="#fff"/><rect x="134.90" y="112.00" width="7" height="3.80" rx="3.5" fill="#7b55fd"/><rect x="147.97" y="97.90" width="7" height="17.90" rx="3.5" fill="#ff8282"/><rect x="146.37" y="110.40" width="10.2" height="7.00" rx="5.1" fill="#fff"/><rect x="147.97" y="112.00" width="7" height="3.80" rx="3.5" fill="#7b55fd"/></svg>
<span class="t" style="left:1489.3px;top:196.00px;font-size:13.9px;color:#505050;">Mon</span>
<svg class="a" style="left:1435.88px;top:184.00px;" width="159" height="119" viewBox="0 0 159 119" fill="none"><rect x="4.20" y="98.90" width="7" height="16.90" rx="3.5" fill="#ff8282"/><rect x="2.60" y="104.40" width="10.2" height="13.00" rx="5.1" fill="#fff"/><rect x="4.20" y="106.00" width="7" height="9.80" rx="3.5" fill="#7b55fd"/><rect x="17.27" y="93.90" width="7" height="21.90" rx="3.5" fill="#ff8282"/><rect x="15.67" y="101.30" width="10.2" height="16.10" rx="5.1" fill="#fff"/><rect x="17.27" y="102.90" width="7" height="12.90" rx="3.5" fill="#7b55fd"/><rect x="30.34" y="88.90" width="7" height="26.90" rx="3.5" fill="#ff8282"/><rect x="28.74" y="98.30" width="10.2" height="19.10" rx="5.1" fill="#fff"/><rect x="30.34" y="99.90" width="7" height="15.90" rx="3.5" fill="#7b55fd"/><rect x="43.41" y="64.00" width="7" height="51.80" rx="3.5" fill="#ff8282"/><rect x="41.81" y="83.30" width="10.2" height="34.10" rx="5.1" fill="#fff"/><rect x="43.41" y="84.90" width="7" height="30.90" rx="3.5" fill="#7b55fd"/><rect x="56.48" y="64.00" width="7" height="51.80" rx="3.5" fill="#ff8282"/><rect x="54.88" y="89.30" width="10.2" height="28.10" rx="5.1" fill="#fff"/><rect x="56.48" y="90.90" width="7" height="24.90" rx="3.5" fill="#7b55fd"/><rect x="69.55" y="52.00" width="7" height="63.80" rx="3.5" fill="#ff8282"/><rect x="67.95" y="75.30" width="10.2" height="42.10" rx="5.1" fill="#fff"/><rect x="69.55" y="76.90" width="7" height="38.90" rx="3.5" fill="#7b55fd"/><rect x="82.62" y="64.00" width="7" height="51.80" rx="3.5" fill="#ff8282"/><rect x="81.02" y="83.30" width="10.2" height="34.10" rx="5.1" fill="#fff"/><rect x="82.62" y="84.90" width="7" height="30.90" rx="3.5" fill="#7b55fd"/><rect x="95.69" y="70.10" width="7" height="45.70" rx="3.5" fill="#ff8282"/><rect x="94.09" y="86.30" width="10.2" height="31.10" rx="5.1" fill="#fff"/><rect x="95.69" y="87.90" width="7" height="27.90" rx="3.5" fill="#7b55fd"/><rect x="108.76" y="75.10" width="7" height="40.70" rx="3.5" fill="#ff8282"/><rect x="107.16" y="83.30" width="10.2" height="34.10" rx="5.1" fill="#fff"/><rect x="108.76" y="84.90" width="7" height="30.90" rx="3.5" fill="#7b55fd"/><rect x="121.83" y="78.90" width="7" height="36.90" rx="3.5" fill="#ff8282"/><rect x="120.23" y="101.30" width="10.2" height="16.10" rx="5.1" fill="#fff"/><rect x="121.83" y="102.90" width="7" height="12.90" rx="3.5" fill="#7b55fd"/><rect x="134.90" y="92.90" width="7" height="22.90" rx="3.5" fill="#ff8282"/><rect x="133.30" y="105.40" width="10.2" height="12.00" rx="5.1" fill="#fff"/><rect x="134.90" y="107.00" width="7" height="8.80" rx="3.5" fill="#7b55fd"/><rect x="147.97" y="97.90" width="7" height="17.90" rx="3.5" fill="#ff8282"/><rect x="146.37" y="109.40" width="10.2" height="8.00" rx="5.1" fill="#fff"/><rect x="147.97" y="111.00" width="7" height="4.80" rx="3.5" fill="#7b55fd"/></svg>
<span class="t" style="left:98.4px;top:321.00px;font-size:17.4px;color:#151515;letter-spacing:0.4px;-webkit-text-stroke:0.4px #151515;">Tier 1</span>
<svg class="a" style="left:275.90px;top:321.00px;" width="17" height="16" viewBox="0 0 17 16" fill="none"><circle cx="6.2" cy="4.4" r="3.1" stroke="#444" stroke-width="1.45"/><path d="M1.2 14.3 V12.6 C1.2 10.8 2.4 9.6 4.2 9.6 H8.3 C10.1 9.6 11.2 10.8 11.2 12.6 V14.3" stroke="#444" stroke-width="1.45" stroke-linecap="round"/><path d="M10.8 1.4 C12.4 1.6 13.4 3 13.4 4.4 C13.4 5.8 12.4 7 10.8 7.3" stroke="#444" stroke-width="1.45" stroke-linecap="round"/><path d="M13.3 9.9 C14.6 10.4 15.4 11.6 15.4 13 V14.3" stroke="#444" stroke-width="1.45" stroke-linecap="round"/></svg>
<span class="t" style="left:297.0px;top:322.00px;font-size:13.8px;color:#666;">7</span>
<span class="t" style="left:98.3px;top:870.00px;font-size:17.4px;color:#151515;letter-spacing:0.4px;-webkit-text-stroke:0.4px #151515;">Tier 2</span>
<svg class="a" style="left:273.80px;top:870.50px;" width="17" height="16" viewBox="0 0 17 16" fill="none"><circle cx="6.2" cy="4.4" r="3.1" stroke="#444" stroke-width="1.45"/><path d="M1.2 14.3 V12.6 C1.2 10.8 2.4 9.6 4.2 9.6 H8.3 C10.1 9.6 11.2 10.8 11.2 12.6 V14.3" stroke="#444" stroke-width="1.45" stroke-linecap="round"/><path d="M10.8 1.4 C12.4 1.6 13.4 3 13.4 4.4 C13.4 5.8 12.4 7 10.8 7.3" stroke="#444" stroke-width="1.45" stroke-linecap="round"/><path d="M13.3 9.9 C14.6 10.4 15.4 11.6 15.4 13 V14.3" stroke="#444" stroke-width="1.45" stroke-linecap="round"/></svg>
<span class="t" style="left:295.0px;top:872.00px;font-size:13.8px;color:#666;">3</span>
<svg class="a" style="left:97.20px;top:375.43px;" width="24" height="24" viewBox="0 0 24 24" fill="none"><defs><clipPath id="cw1"><circle cx="12" cy="12" r="12"/></clipPath></defs><g clip-path="url(#cw1)"><rect width="24" height="24" fill="#262c29"/><path d="M0 4 C3 8 3.5 14 5 24 L0 24Z" fill="#3b504b" opacity=".8"/><path d="M24 5 C20.5 9 21 15 19.5 24 L24 24Z" fill="#34443f" opacity=".9"/><path d="M5.2 22 C3.6 15 4.2 6.2 12 3.8 C19.8 6.2 20.4 15 18.8 22 L16 24 L8 24Z" fill="#0b0b0b"/><path d="M6.5 24 C7.2 20.2 9.4 19 12 19 C14.6 19 16.8 20.2 17.5 24Z" fill="#7d4a24"/><path d="M13.6 24 L15.4 20.2 L18.4 21.4 L17.8 24Z" fill="#f39a32"/><ellipse cx="12.1" cy="12.4" rx="4.4" ry="5.9" fill="#8f5b36"/><ellipse cx="12.1" cy="10" rx="2.6" ry="1.6" fill="#b07a58" opacity=".55"/><path d="M9.6 11.3 H11 M13.2 11.3 H14.6" stroke="#3a2416" stroke-width=".8"/><path d="M10.1 15.1 C11.2 16.1 13 16.1 14.1 15.1" stroke="#ead5c4" stroke-width=".95" stroke-linecap="round"/></g></svg>
<span class="t" style="left:133.7px;top:368.00px;font-size:13.8px;font-weight:700;color:#1a1a1a;">Amy Tan</span>
<svg class="a" style="left:138.00px;top:390.23px;" width="14" height="11" viewBox="0 0 14 11" fill="none"><path d="M1.4 5.8 L4.9 9.3 L12.6 1.6" stroke="#3aab45" stroke-width="1.45" stroke-linecap="round" stroke-linejoin="round"/></svg>
<span class="t" style="left:155.6px;top:388.00px;font-size:14.5px;color:#4a4a4a;">40h</span>
<svg class="a" style="left:97.20px;top:447.10px;" width="24" height="24" viewBox="0 0 24 24" fill="none"><defs><clipPath id="cw2"><circle cx="12" cy="12" r="12"/></clipPath></defs><g clip-path="url(#cw2)"><rect width="24" height="24" fill="#262c29"/><path d="M0 4 C3 8 3.5 14 5 24 L0 24Z" fill="#3b504b" opacity=".8"/><path d="M24 5 C20.5 9 21 15 19.5 24 L24 24Z" fill="#34443f" opacity=".9"/><path d="M5.2 22 C3.6 15 4.2 6.2 12 3.8 C19.8 6.2 20.4 15 18.8 22 L16 24 L8 24Z" fill="#0b0b0b"/><path d="M6.5 24 C7.2 20.2 9.4 19 12 19 C14.6 19 16.8 20.2 17.5 24Z" fill="#7d4a24"/><path d="M13.6 24 L15.4 20.2 L18.4 21.4 L17.8 24Z" fill="#f39a32"/><ellipse cx="12.1" cy="12.4" rx="4.4" ry="5.9" fill="#8f5b36"/><ellipse cx="12.1" cy="10" rx="2.6" ry="1.6" fill="#b07a58" opacity=".55"/><path d="M9.6 11.3 H11 M13.2 11.3 H14.6" stroke="#3a2416" stroke-width=".8"/><path d="M10.1 15.1 C11.2 16.1 13 16.1 14.1 15.1" stroke="#ead5c4" stroke-width=".95" stroke-linecap="round"/></g></svg>
<span class="t" style="left:133.7px;top:439.00px;font-size:13.8px;font-weight:700;color:#1a1a1a;">Andrea Edwards</span>
<svg class="a" style="left:138.00px;top:461.90px;" width="14" height="11" viewBox="0 0 14 11" fill="none"><path d="M1.4 5.8 L4.9 9.3 L12.6 1.6" stroke="#3aab45" stroke-width="1.45" stroke-linecap="round" stroke-linejoin="round"/></svg>
<span class="t" style="left:155.6px;top:460.00px;font-size:14.5px;color:#4a4a4a;">40h</span>
<svg class="a" style="left:97.20px;top:518.77px;" width="24" height="24" viewBox="0 0 24 24" fill="none"><defs><clipPath id="cw3"><circle cx="12" cy="12" r="12"/></clipPath></defs><g clip-path="url(#cw3)"><rect width="24" height="24" fill="#262c29"/><path d="M0 4 C3 8 3.5 14 5 24 L0 24Z" fill="#3b504b" opacity=".8"/><path d="M24 5 C20.5 9 21 15 19.5 24 L24 24Z" fill="#34443f" opacity=".9"/><path d="M5.2 22 C3.6 15 4.2 6.2 12 3.8 C19.8 6.2 20.4 15 18.8 22 L16 24 L8 24Z" fill="#0b0b0b"/><path d="M6.5 24 C7.2 20.2 9.4 19 12 19 C14.6 19 16.8 20.2 17.5 24Z" fill="#7d4a24"/><path d="M13.6 24 L15.4 20.2 L18.4 21.4 L17.8 24Z" fill="#f39a32"/><ellipse cx="12.1" cy="12.4" rx="4.4" ry="5.9" fill="#8f5b36"/><ellipse cx="12.1" cy="10" rx="2.6" ry="1.6" fill="#b07a58" opacity=".55"/><path d="M9.6 11.3 H11 M13.2 11.3 H14.6" stroke="#3a2416" stroke-width=".8"/><path d="M10.1 15.1 C11.2 16.1 13 16.1 14.1 15.1" stroke="#ead5c4" stroke-width=".95" stroke-linecap="round"/></g></svg>
<span class="t" style="left:133.7px;top:511.00px;font-size:13.8px;font-weight:700;color:#1a1a1a;">Emily Prowse</span>
<svg class="a" style="left:138.00px;top:533.57px;" width="14" height="11" viewBox="0 0 14 11" fill="none"><path d="M1.4 5.8 L4.9 9.3 L12.6 1.6" stroke="#3aab45" stroke-width="1.45" stroke-linecap="round" stroke-linejoin="round"/></svg>
<span class="t" style="left:155.6px;top:532.00px;font-size:14.5px;color:#4a4a4a;">40h</span>
<svg class="a" style="left:97.20px;top:590.44px;" width="24" height="24" viewBox="0 0 24 24" fill="none"><defs><clipPath id="cw4"><circle cx="12" cy="12" r="12"/></clipPath></defs><g clip-path="url(#cw4)"><rect width="24" height="24" fill="#262c29"/><path d="M0 4 C3 8 3.5 14 5 24 L0 24Z" fill="#3b504b" opacity=".8"/><path d="M24 5 C20.5 9 21 15 19.5 24 L24 24Z" fill="#34443f" opacity=".9"/><path d="M5.2 22 C3.6 15 4.2 6.2 12 3.8 C19.8 6.2 20.4 15 18.8 22 L16 24 L8 24Z" fill="#0b0b0b"/><path d="M6.5 24 C7.2 20.2 9.4 19 12 19 C14.6 19 16.8 20.2 17.5 24Z" fill="#7d4a24"/><path d="M13.6 24 L15.4 20.2 L18.4 21.4 L17.8 24Z" fill="#f39a32"/><ellipse cx="12.1" cy="12.4" rx="4.4" ry="5.9" fill="#8f5b36"/><ellipse cx="12.1" cy="10" rx="2.6" ry="1.6" fill="#b07a58" opacity=".55"/><path d="M9.6 11.3 H11 M13.2 11.3 H14.6" stroke="#3a2416" stroke-width=".8"/><path d="M10.1 15.1 C11.2 16.1 13 16.1 14.1 15.1" stroke="#ead5c4" stroke-width=".95" stroke-linecap="round"/></g></svg>
<span class="t" style="left:133.7px;top:583.00px;font-size:13.8px;font-weight:700;color:#1a1a1a;">Harold Yuen</span>
<svg class="a" style="left:138.00px;top:605.24px;" width="14" height="11" viewBox="0 0 14 11" fill="none"><path d="M1.4 5.8 L4.9 9.3 L12.6 1.6" stroke="#3aab45" stroke-width="1.45" stroke-linecap="round" stroke-linejoin="round"/></svg>
<span class="t" style="left:155.6px;top:603.00px;font-size:14.5px;color:#4a4a4a;">40h</span>
<svg class="a" style="left:97.20px;top:662.11px;" width="24" height="24" viewBox="0 0 24 24" fill="none"><defs><clipPath id="cw5"><circle cx="12" cy="12" r="12"/></clipPath></defs><g clip-path="url(#cw5)"><rect width="24" height="24" fill="#262c29"/><path d="M0 4 C3 8 3.5 14 5 24 L0 24Z" fill="#3b504b" opacity=".8"/><path d="M24 5 C20.5 9 21 15 19.5 24 L24 24Z" fill="#34443f" opacity=".9"/><path d="M5.2 22 C3.6 15 4.2 6.2 12 3.8 C19.8 6.2 20.4 15 18.8 22 L16 24 L8 24Z" fill="#0b0b0b"/><path d="M6.5 24 C7.2 20.2 9.4 19 12 19 C14.6 19 16.8 20.2 17.5 24Z" fill="#7d4a24"/><path d="M13.6 24 L15.4 20.2 L18.4 21.4 L17.8 24Z" fill="#f39a32"/><ellipse cx="12.1" cy="12.4" rx="4.4" ry="5.9" fill="#8f5b36"/><ellipse cx="12.1" cy="10" rx="2.6" ry="1.6" fill="#b07a58" opacity=".55"/><path d="M9.6 11.3 H11 M13.2 11.3 H14.6" stroke="#3a2416" stroke-width=".8"/><path d="M10.1 15.1 C11.2 16.1 13 16.1 14.1 15.1" stroke="#ead5c4" stroke-width=".95" stroke-linecap="round"/></g></svg>
<span class="t" style="left:133.7px;top:654.00px;font-size:13.8px;font-weight:700;color:#1a1a1a;">Jack Lewis</span>
<svg class="a" style="left:138.10px;top:675.81px;" width="14" height="14" viewBox="0 0 14 14" fill="none"><circle cx="7" cy="7" r="6.15" stroke="#d0d0d0" stroke-width="1.7"/><circle cx="7" cy="7" r="6.15" stroke="#f8922b" stroke-width="1.75" stroke-dasharray="19.32 38.64" transform="rotate(-90 7 7)"/></svg>
<span class="t" style="left:155.6px;top:675.00px;font-size:14.5px;color:#4a4a4a;">-20h</span>
<svg class="a" style="left:190.80px;top:674.51px;" width="16" height="16" viewBox="0 0 16 16" fill="none"><g transform="rotate(-44 8.1 8.4)"><rect x="0.95" y="7.1" width="14.3" height="2.6" rx="1.3" stroke="#333" stroke-width="1.2"/><path d="M11.2 7.1 V9.7" stroke="#333" stroke-width="1.1"/></g><path d="M6.40 1.00 L7.04 2.36 L8.40 3.00 L7.04 3.64 L6.40 5.00 L5.76 3.64 L4.40 3.00 L5.76 2.36Z M3.10 4.50 L3.74 5.86 L5.10 6.50 L3.74 7.14 L3.10 8.50 L2.46 7.14 L1.10 6.50 L2.46 5.86Z M11.60 9.90 L12.24 11.26 L13.60 11.90 L12.24 12.54 L11.60 13.90 L10.96 12.54 L9.60 11.90 L10.96 11.26Z" fill="#333"/></svg>
<svg class="a" style="left:97.20px;top:733.78px;" width="24" height="24" viewBox="0 0 24 24" fill="none"><defs><clipPath id="cw6"><circle cx="12" cy="12" r="12"/></clipPath></defs><g clip-path="url(#cw6)"><rect width="24" height="24" fill="#262c29"/><path d="M0 4 C3 8 3.5 14 5 24 L0 24Z" fill="#3b504b" opacity=".8"/><path d="M24 5 C20.5 9 21 15 19.5 24 L24 24Z" fill="#34443f" opacity=".9"/><path d="M5.2 22 C3.6 15 4.2 6.2 12 3.8 C19.8 6.2 20.4 15 18.8 22 L16 24 L8 24Z" fill="#0b0b0b"/><path d="M6.5 24 C7.2 20.2 9.4 19 12 19 C14.6 19 16.8 20.2 17.5 24Z" fill="#7d4a24"/><path d="M13.6 24 L15.4 20.2 L18.4 21.4 L17.8 24Z" fill="#f39a32"/><ellipse cx="12.1" cy="12.4" rx="4.4" ry="5.9" fill="#8f5b36"/><ellipse cx="12.1" cy="10" rx="2.6" ry="1.6" fill="#b07a58" opacity=".55"/><path d="M9.6 11.3 H11 M13.2 11.3 H14.6" stroke="#3a2416" stroke-width=".8"/><path d="M10.1 15.1 C11.2 16.1 13 16.1 14.1 15.1" stroke="#ead5c4" stroke-width=".95" stroke-linecap="round"/></g></svg>
<span class="t" style="left:133.7px;top:726.00px;font-size:13.8px;font-weight:700;color:#1a1a1a;">Mikel Musa</span>
<svg class="a" style="left:138.00px;top:748.58px;" width="14" height="11" viewBox="0 0 14 11" fill="none"><path d="M1.4 5.8 L4.9 9.3 L12.6 1.6" stroke="#3aab45" stroke-width="1.45" stroke-linecap="round" stroke-linejoin="round"/></svg>
<span class="t" style="left:155.6px;top:747.00px;font-size:14.5px;color:#4a4a4a;">37hrs</span>
<svg class="a" style="left:97.20px;top:805.45px;" width="24" height="24" viewBox="0 0 24 24" fill="none"><defs><clipPath id="cw7"><circle cx="12" cy="12" r="12"/></clipPath></defs><g clip-path="url(#cw7)"><rect width="24" height="24" fill="#262c29"/><path d="M0 4 C3 8 3.5 14 5 24 L0 24Z" fill="#3b504b" opacity=".8"/><path d="M24 5 C20.5 9 21 15 19.5 24 L24 24Z" fill="#34443f" opacity=".9"/><path d="M5.2 22 C3.6 15 4.2 6.2 12 3.8 C19.8 6.2 20.4 15 18.8 22 L16 24 L8 24Z" fill="#0b0b0b"/><path d="M6.5 24 C7.2 20.2 9.4 19 12 19 C14.6 19 16.8 20.2 17.5 24Z" fill="#7d4a24"/><path d="M13.6 24 L15.4 20.2 L18.4 21.4 L17.8 24Z" fill="#f39a32"/><ellipse cx="12.1" cy="12.4" rx="4.4" ry="5.9" fill="#8f5b36"/><ellipse cx="12.1" cy="10" rx="2.6" ry="1.6" fill="#b07a58" opacity=".55"/><path d="M9.6 11.3 H11 M13.2 11.3 H14.6" stroke="#3a2416" stroke-width=".8"/><path d="M10.1 15.1 C11.2 16.1 13 16.1 14.1 15.1" stroke="#ead5c4" stroke-width=".95" stroke-linecap="round"/></g></svg>
<span class="t" style="left:133.7px;top:798.00px;font-size:13.8px;font-weight:700;color:#1a1a1a;">Vaishvi Chowdury</span>
<svg class="a" style="left:138.10px;top:819.15px;" width="14" height="14" viewBox="0 0 14 14" fill="none"><circle cx="7" cy="7" r="6.15" stroke="#d0d0d0" stroke-width="1.7"/><circle cx="7" cy="7" r="6.15" stroke="#3aac30" stroke-width="1.75" stroke-dasharray="28.98 38.64" transform="rotate(-90 7 7)"/></svg>
<span class="t" style="left:155.6px;top:818.00px;font-size:14.5px;color:#4a4a4a;">-8h</span>
<svg class="a" style="left:182.70px;top:817.85px;" width="16" height="16" viewBox="0 0 16 16" fill="none"><g transform="rotate(-44 8.1 8.4)"><rect x="0.95" y="7.1" width="14.3" height="2.6" rx="1.3" stroke="#333" stroke-width="1.2"/><path d="M11.2 7.1 V9.7" stroke="#333" stroke-width="1.1"/></g><path d="M6.40 1.00 L7.04 2.36 L8.40 3.00 L7.04 3.64 L6.40 5.00 L5.76 3.64 L4.40 3.00 L5.76 2.36Z M3.10 4.50 L3.74 5.86 L5.10 6.50 L3.74 7.14 L3.10 8.50 L2.46 7.14 L1.10 6.50 L2.46 5.86Z M11.60 9.90 L12.24 11.26 L13.60 11.90 L12.24 12.54 L11.60 13.90 L10.96 12.54 L9.60 11.90 L10.96 11.26Z" fill="#333"/></svg>
<svg class="a" style="left:97.20px;top:924.52px;" width="24" height="24" viewBox="0 0 24 24" fill="none"><defs><clipPath id="cw8"><circle cx="12" cy="12" r="12"/></clipPath></defs><g clip-path="url(#cw8)"><rect width="24" height="24" fill="#262c29"/><path d="M0 4 C3 8 3.5 14 5 24 L0 24Z" fill="#3b504b" opacity=".8"/><path d="M24 5 C20.5 9 21 15 19.5 24 L24 24Z" fill="#34443f" opacity=".9"/><path d="M5.2 22 C3.6 15 4.2 6.2 12 3.8 C19.8 6.2 20.4 15 18.8 22 L16 24 L8 24Z" fill="#0b0b0b"/><path d="M6.5 24 C7.2 20.2 9.4 19 12 19 C14.6 19 16.8 20.2 17.5 24Z" fill="#7d4a24"/><path d="M13.6 24 L15.4 20.2 L18.4 21.4 L17.8 24Z" fill="#f39a32"/><ellipse cx="12.1" cy="12.4" rx="4.4" ry="5.9" fill="#8f5b36"/><ellipse cx="12.1" cy="10" rx="2.6" ry="1.6" fill="#b07a58" opacity=".55"/><path d="M9.6 11.3 H11 M13.2 11.3 H14.6" stroke="#3a2416" stroke-width=".8"/><path d="M10.1 15.1 C11.2 16.1 13 16.1 14.1 15.1" stroke="#ead5c4" stroke-width=".95" stroke-linecap="round"/></g></svg>
<span class="t" style="left:133.7px;top:917.00px;font-size:13.8px;font-weight:700;color:#1a1a1a;">Andreas Gor</span>
<svg class="a" style="left:138.10px;top:938.22px;" width="14" height="14" viewBox="0 0 14 14" fill="none"><circle cx="7" cy="7" r="6.15" stroke="#d0d0d0" stroke-width="1.7"/></svg>
<span class="t" style="left:155.6px;top:938.00px;font-size:14.5px;color:#4a4a4a;">40h</span>
<svg class="a" style="left:184.70px;top:936.92px;" width="16" height="16" viewBox="0 0 16 16" fill="none"><g transform="rotate(-44 8.1 8.4)"><rect x="0.95" y="7.1" width="14.3" height="2.6" rx="1.3" stroke="#333" stroke-width="1.2"/><path d="M11.2 7.1 V9.7" stroke="#333" stroke-width="1.1"/></g><path d="M6.40 1.00 L7.04 2.36 L8.40 3.00 L7.04 3.64 L6.40 5.00 L5.76 3.64 L4.40 3.00 L5.76 2.36Z M3.10 4.50 L3.74 5.86 L5.10 6.50 L3.74 7.14 L3.10 8.50 L2.46 7.14 L1.10 6.50 L2.46 5.86Z M11.60 9.90 L12.24 11.26 L13.60 11.90 L12.24 12.54 L11.60 13.90 L10.96 12.54 L9.60 11.90 L10.96 11.26Z" fill="#333"/></svg>
<div class="a" style="left:260.00px;top:938.30px;width:44.00px;height:18.70px;background:#f4f4f4;border-radius:5px"></div>
<svg class="a" style="left:265.60px;top:943.40px;overflow:visible" width="13" height="8.4" viewBox="0 0 13 8.4" fill="none"><g transform="skewY(-4)"><rect x="0" y="0.8" width="13" height="7.4" rx="1" fill="#e8615c"/><rect x="0" y="2.4" width="13" height="1" fill="#f6c6c0"/><rect x="0" y="4.6" width="13" height="1" fill="#f6c6c0"/><rect x="0" y="0.8" width="5.9" height="4.6" fill="#4f5a78"/></g></svg>
<span class="t" style="left:284.0px;top:940.00px;font-size:14.5px;color:#444;">-3</span>
<div class="card" style="left:484.50px;top:355.93px;width:150.5px;height:41.3px;background:#ffffff;border:1px solid #fdca9f"><div class="bar" style="background:#ffc793"></div></div>
<span class="t" style="left:504.9px;top:360.00px;font-size:14.1px;font-weight:700;color:#5c2d0d;">7am - 3pm</span>
<span class="t" style="left:504.9px;top:378.00px;font-size:14.0px;color:#6f4a2c;">Late</span>
<div class="card" style="left:643.73px;top:355.93px;width:150.5px;height:41.3px;background:#ffffff;border:1px solid #fdca9f"><div class="bar" style="background:#ffc793"></div></div>
<span class="t" style="left:664.1px;top:360.00px;font-size:14.1px;font-weight:700;color:#5c2d0d;">7am - 3pm</span>
<span class="t" style="left:664.1px;top:378.00px;font-size:14.0px;color:#6f4a2c;">Late</span>
<div class="card" style="left:962.19px;top:355.93px;width:150.5px;height:41.3px;background:#ffffff;border:1px solid #fdca9f"><div class="bar" style="background:#ffc793"></div></div>
<span class="t" style="left:982.6px;top:360.00px;font-size:14.1px;font-weight:700;color:#5c2d0d;">7am - 3pm</span>
<span class="t" style="left:982.6px;top:378.00px;font-size:14.0px;color:#6f4a2c;">Late</span>
<div class="card" style="left:1280.65px;top:355.93px;width:150.5px;height:41.3px;background:#ffffff;border:1px solid #fdca9f"><div class="bar" style="background:#ffc793"></div></div>
<span class="t" style="left:1301.1px;top:360.00px;font-size:14.1px;font-weight:700;color:#5c2d0d;">7am - 3pm</span>
<span class="t" style="left:1301.1px;top:378.00px;font-size:14.0px;color:#6f4a2c;">Late</span>
<div class="card" style="left:1439.88px;top:355.93px;width:150.5px;height:41.3px;background:#ffffff;border:1px solid #fdca9f"><div class="bar" style="background:#ffc793"></div></div>
<span class="t" style="left:1460.3px;top:360.00px;font-size:14.1px;font-weight:700;color:#5c2d0d;">7am - 3pm</span>
<span class="t" style="left:1460.3px;top:378.00px;font-size:14.0px;color:#6f4a2c;">Late</span>
<div class="card" style="left:325.20px;top:355.33px;width:151.1px;height:42.5px;background:#fff3e9;border:1px solid #fca589"><div class="bar" style="background:#ff9a3c"></div></div>
<span class="t" style="left:345.6px;top:360.00px;font-size:14.1px;font-weight:700;color:#5c2d0d;">7am - 3pm</span>
<span class="t" style="left:345.6px;top:378.00px;font-size:14.0px;color:#6f4a2c;">Late</span>
<div class="card" style="left:325.20px;top:427.60px;width:151.1px;height:41.3px;background:#fff3e9;border:1px solid #fff3e9"><div class="bar" style="background:#ff9a3c"></div></div>
<span class="t" style="left:345.6px;top:432.00px;font-size:14.1px;font-weight:700;color:#5c2d0d;">7am - 3pm</span>
<span class="t" style="left:345.6px;top:450.00px;font-size:14.0px;color:#6f4a2c;">Late</span>
<div class="card" style="left:484.50px;top:427.60px;width:150.5px;height:41.3px;background:#ffffff;border:1px solid #fdca9f"><div class="bar" style="background:#ffc793"></div></div>
<span class="t" style="left:504.9px;top:432.00px;font-size:14.1px;font-weight:700;color:#5c2d0d;">7am - 3pm</span>
<span class="t" style="left:504.9px;top:450.00px;font-size:14.0px;color:#6f4a2c;">Late</span>
<div class="card" style="left:643.73px;top:427.60px;width:150.5px;height:41.3px;background:#ffffff;border:1px solid #fdca9f"><div class="bar" style="background:#ffc793"></div></div>
<span class="t" style="left:664.1px;top:432.00px;font-size:14.1px;font-weight:700;color:#5c2d0d;">7am - 3pm</span>
<span class="t" style="left:664.1px;top:450.00px;font-size:14.0px;color:#6f4a2c;">Late</span>
<div class="card" style="left:802.96px;top:427.60px;width:150.5px;height:41.3px;background:#ffffff;border:1px solid #fdca9f"><div class="bar" style="background:#ffc793"></div></div>
<span class="t" style="left:823.4px;top:432.00px;font-size:14.1px;font-weight:700;color:#5c2d0d;">7am - 3pm</span>
<span class="t" style="left:823.4px;top:450.00px;font-size:14.0px;color:#6f4a2c;">Late</span>
<div class="card" style="left:962.19px;top:427.60px;width:150.5px;height:41.3px;background:#ffffff;border:1px solid #fdca9f"><div class="bar" style="background:#ffc793"></div></div>
<span class="t" style="left:982.6px;top:432.00px;font-size:14.1px;font-weight:700;color:#5c2d0d;">7am - 3pm</span>
<span class="t" style="left:982.6px;top:450.00px;font-size:14.0px;color:#6f4a2c;">Late</span>
<div class="card" style="left:1439.88px;top:427.60px;width:150.5px;height:41.3px;background:#ffffff;border:1px solid #fdca9f"><div class="bar" style="background:#ffc793"></div></div>
<span class="t" style="left:1460.3px;top:432.00px;font-size:14.1px;font-weight:700;color:#5c2d0d;">7am - 3pm</span>
<span class="t" style="left:1460.3px;top:450.00px;font-size:14.0px;color:#6f4a2c;">Late</span>
<div class="card" style="left:325.20px;top:499.27px;width:151.1px;height:41.3px;background:#fde1f1;border:1px solid #fde1f1"><div class="bar" style="background:#ef178d"></div></div>
<span class="t" style="left:345.6px;top:503.00px;font-size:14.1px;font-weight:700;color:#4d1b37;">8am - 5pm</span>
<span class="t" style="left:345.6px;top:521.00px;font-size:14.0px;color:#5a3047;">Early</span>
<div class="card" style="left:484.50px;top:499.27px;width:150.5px;height:41.3px;background:#ffffff;border:1px solid #fb8cc8"><div class="bar" style="background:#f783c6"></div></div>
<span class="t" style="left:504.9px;top:503.00px;font-size:14.1px;font-weight:700;color:#4d1b37;">8am - 5pm</span>
<span class="t" style="left:504.9px;top:521.00px;font-size:14.0px;color:#5a3047;">Early</span>
<div class="card" style="left:643.73px;top:499.27px;width:150.5px;height:41.3px;background:#ffffff;border:1px solid #fb8cc8"><div class="bar" style="background:#f783c6"></div></div>
<span class="t" style="left:664.1px;top:503.00px;font-size:14.1px;font-weight:700;color:#4d1b37;">8am - 5pm</span>
<span class="t" style="left:664.1px;top:521.00px;font-size:14.0px;color:#5a3047;">Early</span>
<div class="card" style="left:802.96px;top:499.27px;width:150.5px;height:41.3px;background:#ffffff;border:1px solid #fb8cc8"><div class="bar" style="background:#f783c6"></div></div>
<span class="t" style="left:823.4px;top:503.00px;font-size:14.1px;font-weight:700;color:#4d1b37;">8am - 5pm</span>
<span class="t" style="left:823.4px;top:521.00px;font-size:14.0px;color:#5a3047;">Early</span>
<div class="card" style="left:962.19px;top:499.27px;width:150.5px;height:41.3px;background:#ffffff;border:1px solid #fb8cc8"><div class="bar" style="background:#f783c6"></div></div>
<span class="t" style="left:982.6px;top:503.00px;font-size:14.1px;font-weight:700;color:#4d1b37;">8am - 5pm</span>
<span class="t" style="left:982.6px;top:521.00px;font-size:14.0px;color:#5a3047;">Early</span>
<div class="card" style="left:1439.88px;top:499.27px;width:150.5px;height:41.3px;background:#ffffff;border:1px solid #fb8cc8"><div class="bar" style="background:#f783c6"></div></div>
<span class="t" style="left:1460.3px;top:503.00px;font-size:14.1px;font-weight:700;color:#4d1b37;">8am - 5pm</span>
<span class="t" style="left:1460.3px;top:521.00px;font-size:14.0px;color:#5a3047;">Early</span>
<div class="card" style="left:325.20px;top:570.94px;width:151.1px;height:41.3px;background:#fde1f1;border:1px solid #fde1f1"><div class="bar" style="background:#ef178d"></div></div>
<span class="t" style="left:345.6px;top:575.00px;font-size:14.1px;font-weight:700;color:#4d1b37;">8am - 5pm</span>
<span class="t" style="left:345.6px;top:593.00px;font-size:14.0px;color:#5a3047;">Early</span>
<div class="card" style="left:484.50px;top:570.94px;width:150.5px;height:41.3px;background:#ffffff;border:1px solid #fb8cc8"><div class="bar" style="background:#f783c6"></div></div>
<span class="t" style="left:504.9px;top:575.00px;font-size:14.1px;font-weight:700;color:#4d1b37;">8am - 5pm</span>
<span class="t" style="left:504.9px;top:593.00px;font-size:14.0px;color:#5a3047;">Early</span>
<div class="card" style="left:643.73px;top:570.94px;width:150.5px;height:41.3px;background:#ffffff;border:1px solid #fb8cc8"><div class="bar" style="background:#f783c6"></div></div>
<span class="t" style="left:664.1px;top:575.00px;font-size:14.1px;font-weight:700;color:#4d1b37;">8am - 5pm</span>
<span class="t" style="left:664.1px;top:593.00px;font-size:14.0px;color:#5a3047;">Early</span>
<div class="card" style="left:802.96px;top:570.94px;width:150.5px;height:41.3px;background:#ffffff;border:1px solid #fb8cc8"><div class="bar" style="background:#f783c6"></div></div>
<span class="t" style="left:823.4px;top:575.00px;font-size:14.1px;font-weight:700;color:#4d1b37;">8am - 5pm</span>
<span class="t" style="left:823.4px;top:593.00px;font-size:14.0px;color:#5a3047;">Early</span>
<div class="card" style="left:962.19px;top:570.94px;width:150.5px;height:41.3px;background:#ffffff;border:1px solid #fb8cc8"><div class="bar" style="background:#f783c6"></div></div>
<span class="t" style="left:982.6px;top:575.00px;font-size:14.1px;font-weight:700;color:#4d1b37;">8am - 5pm</span>
<span class="t" style="left:982.6px;top:593.00px;font-size:14.0px;color:#5a3047;">Early</span>
<div class="card" style="left:1439.88px;top:570.94px;width:150.5px;height:41.3px;background:#ffffff;border:1px solid #fb8cc8"><div class="bar" style="background:#f783c6"></div></div>
<span class="t" style="left:1460.3px;top:575.00px;font-size:14.1px;font-weight:700;color:#4d1b37;">8am - 5pm</span>
<span class="t" style="left:1460.3px;top:593.00px;font-size:14.0px;color:#5a3047;">Early</span>
<div class="card" style="left:325.20px;top:642.61px;width:151.1px;height:41.3px;background:#e9f8f5;border:1px solid #e9f8f5"><div class="bar" style="background:#55bdb1"></div></div>
<span class="t" style="left:345.6px;top:647.00px;font-size:14.1px;font-weight:700;color:#27403b;">9am - 6pm</span>
<span class="t" style="left:345.6px;top:665.00px;font-size:14.0px;color:#3b4e4a;">Standard</span>
<div class="card" style="left:484.50px;top:642.61px;width:150.5px;height:41.3px;background:#ffffff;border:1px solid #bfe6df"><div class="bar" style="background:#cdebe6"></div></div>
<span class="t" style="left:504.9px;top:647.00px;font-size:14.1px;font-weight:700;color:#27403b;">9am - 6pm</span>
<span class="t" style="left:504.9px;top:665.00px;font-size:14.0px;color:#3b4e4a;">Standard</span>
<div class="card" style="left:643.73px;top:642.61px;width:150.5px;height:41.3px;background:#ffffff;border:1px solid #bfe6df"><div class="bar" style="background:#cdebe6"></div></div>
<span class="t" style="left:664.1px;top:647.00px;font-size:14.1px;font-weight:700;color:#27403b;">9am - 6pm</span>
<span class="t" style="left:664.1px;top:665.00px;font-size:14.0px;color:#3b4e4a;">Standard</span>
<div class="card" style="left:962.19px;top:642.61px;width:150.5px;height:41.3px;background:#e9e9e9;border:1px solid #c7c7c7"><div class="bar" style="background:#a9a9a9"></div></div>
<span class="t" style="left:982.6px;top:647.00px;font-size:14.1px;font-weight:700;color:#111;">All day</span>
<span class="t" style="left:982.6px;top:665.00px;font-size:14.0px;color:#222;">Time off</span>
<svg class="a" style="left:1094.39px;top:662.81px;" width="15" height="16" viewBox="0 0 15 16" fill="none"><path d="M7.3 5.2 C7.5 8.2 7.3 10.8 6.9 13.2" stroke="#8b5527" stroke-width="2.1" stroke-linecap="round"/><path d="M6.4 8.4 L8 8 M6.3 10.8 L7.9 10.4" stroke="#b77a45" stroke-width=".7"/><path d="M7.2 3.4 C4.6 1.8 1.6 2.6 0.4 6.6 C1.8 5.4 3.2 5 4.4 5.4 C3.2 6.4 2.8 7.6 2.8 8.8 C4.2 6.8 5.6 5.6 7.2 4.8Z" fill="#4cb53b" stroke="#2f6b2a" stroke-width=".45"/><path d="M7.2 3.4 C9.8 1.8 12.8 2.6 14 6.6 C12.6 5.4 11.2 5 10 5.4 C11.2 6.4 11.6 7.6 11.6 8.8 C10.2 6.8 8.8 5.6 7.2 4.8Z" fill="#4cb53b" stroke="#2f6b2a" stroke-width=".45"/><path d="M7.2 4.4 C6.4 2.2 4.6 1 2.6 1 C5 -0.1 9.4 -0.1 11.8 1 C9.8 1 8 2.2 7.2 4.4Z" fill="#45a836" stroke="#2f6b2a" stroke-width=".45"/><path d="M5.2 1.6 L5.9 5.2 M9.2 1.6 L8.5 5.2" stroke="#24511f" stroke-width=".6"/></svg>
<div class="card" style="left:1121.42px;top:642.61px;width:150.5px;height:41.3px;background:#e9e9e9;border:1px solid #c7c7c7"><div class="bar" style="background:#a9a9a9"></div></div>
<span class="t" style="left:1141.8px;top:647.00px;font-size:14.1px;font-weight:700;color:#111;">All day</span>
<span class="t" style="left:1141.8px;top:665.00px;font-size:14.0px;color:#222;">Time off</span>
<svg class="a" style="left:1253.62px;top:662.81px;" width="15" height="16" viewBox="0 0 15 16" fill="none"><path d="M7.3 5.2 C7.5 8.2 7.3 10.8 6.9 13.2" stroke="#8b5527" stroke-width="2.1" stroke-linecap="round"/><path d="M6.4 8.4 L8 8 M6.3 10.8 L7.9 10.4" stroke="#b77a45" stroke-width=".7"/><path d="M7.2 3.4 C4.6 1.8 1.6 2.6 0.4 6.6 C1.8 5.4 3.2 5 4.4 5.4 C3.2 6.4 2.8 7.6 2.8 8.8 C4.2 6.8 5.6 5.6 7.2 4.8Z" fill="#4cb53b" stroke="#2f6b2a" stroke-width=".45"/><path d="M7.2 3.4 C9.8 1.8 12.8 2.6 14 6.6 C12.6 5.4 11.2 5 10 5.4 C11.2 6.4 11.6 7.6 11.6 8.8 C10.2 6.8 8.8 5.6 7.2 4.8Z" fill="#4cb53b" stroke="#2f6b2a" stroke-width=".45"/><path d="M7.2 4.4 C6.4 2.2 4.6 1 2.6 1 C5 -0.1 9.4 -0.1 11.8 1 C9.8 1 8 2.2 7.2 4.4Z" fill="#45a836" stroke="#2f6b2a" stroke-width=".45"/><path d="M5.2 1.6 L5.9 5.2 M9.2 1.6 L8.5 5.2" stroke="#24511f" stroke-width=".6"/></svg>
<div class="card" style="left:1280.65px;top:642.61px;width:150.5px;height:41.3px;background:#e9e9e9;border:1px solid #c7c7c7"><div class="bar" style="background:#a9a9a9"></div></div>
<span class="t" style="left:1301.1px;top:647.00px;font-size:14.1px;font-weight:700;color:#111;">All day</span>
<span class="t" style="left:1301.1px;top:665.00px;font-size:14.0px;color:#222;">Time off</span>
<svg class="a" style="left:1412.85px;top:662.81px;" width="15" height="16" viewBox="0 0 15 16" fill="none"><path d="M7.3 5.2 C7.5 8.2 7.3 10.8 6.9 13.2" stroke="#8b5527" stroke-width="2.1" stroke-linecap="round"/><path d="M6.4 8.4 L8 8 M6.3 10.8 L7.9 10.4" stroke="#b77a45" stroke-width=".7"/><path d="M7.2 3.4 C4.6 1.8 1.6 2.6 0.4 6.6 C1.8 5.4 3.2 5 4.4 5.4 C3.2 6.4 2.8 7.6 2.8 8.8 C4.2 6.8 5.6 5.6 7.2 4.8Z" fill="#4cb53b" stroke="#2f6b2a" stroke-width=".45"/><path d="M7.2 3.4 C9.8 1.8 12.8 2.6 14 6.6 C12.6 5.4 11.2 5 10 5.4 C11.2 6.4 11.6 7.6 11.6 8.8 C10.2 6.8 8.8 5.6 7.2 4.8Z" fill="#4cb53b" stroke="#2f6b2a" stroke-width=".45"/><path d="M7.2 4.4 C6.4 2.2 4.6 1 2.6 1 C5 -0.1 9.4 -0.1 11.8 1 C9.8 1 8 2.2 7.2 4.4Z" fill="#45a836" stroke="#2f6b2a" stroke-width=".45"/><path d="M5.2 1.6 L5.9 5.2 M9.2 1.6 L8.5 5.2" stroke="#24511f" stroke-width=".6"/></svg>
<div class="card" style="left:1439.88px;top:642.61px;width:150.5px;height:41.3px;background:#e9e9e9;border:1px solid #c7c7c7"><div class="bar" style="background:#a9a9a9"></div></div>
<span class="t" style="left:1460.3px;top:647.00px;font-size:14.1px;font-weight:700;color:#111;">All day</span>
<span class="t" style="left:1460.3px;top:665.00px;font-size:14.0px;color:#222;">Time off</span>
<svg class="a" style="left:1572.08px;top:662.81px;" width="15" height="16" viewBox="0 0 15 16" fill="none"><path d="M7.3 5.2 C7.5 8.2 7.3 10.8 6.9 13.2" stroke="#8b5527" stroke-width="2.1" stroke-linecap="round"/><path d="M6.4 8.4 L8 8 M6.3 10.8 L7.9 10.4" stroke="#b77a45" stroke-width=".7"/><path d="M7.2 3.4 C4.6 1.8 1.6 2.6 0.4 6.6 C1.8 5.4 3.2 5 4.4 5.4 C3.2 6.4 2.8 7.6 2.8 8.8 C4.2 6.8 5.6 5.6 7.2 4.8Z" fill="#4cb53b" stroke="#2f6b2a" stroke-width=".45"/><path d="M7.2 3.4 C9.8 1.8 12.8 2.6 14 6.6 C12.6 5.4 11.2 5 10 5.4 C11.2 6.4 11.6 7.6 11.6 8.8 C10.2 6.8 8.8 5.6 7.2 4.8Z" fill="#4cb53b" stroke="#2f6b2a" stroke-width=".45"/><path d="M7.2 4.4 C6.4 2.2 4.6 1 2.6 1 C5 -0.1 9.4 -0.1 11.8 1 C9.8 1 8 2.2 7.2 4.4Z" fill="#45a836" stroke="#2f6b2a" stroke-width=".45"/><path d="M5.2 1.6 L5.9 5.2 M9.2 1.6 L8.5 5.2" stroke="#24511f" stroke-width=".6"/></svg>
<div class="card" style="left:325.20px;top:714.28px;width:151.1px;height:41.3px;background:#e9f8f5;border:1px solid #e9f8f5"><div class="bar" style="background:#55bdb1"></div></div>
<span class="t" style="left:345.6px;top:718.00px;font-size:14.1px;font-weight:700;color:#27403b;">9am - 6pm</span>
<span class="t" style="left:345.6px;top:736.00px;font-size:14.0px;color:#3b4e4a;">Standard</span>
<div class="card" style="left:484.50px;top:714.28px;width:150.5px;height:41.3px;background:#ffffff;border:1px solid #bfe6df"><div class="bar" style="background:#cdebe6"></div></div>
<span class="t" style="left:504.9px;top:718.00px;font-size:14.1px;font-weight:700;color:#27403b;">9am - 6pm</span>
<span class="t" style="left:504.9px;top:736.00px;font-size:14.0px;color:#3b4e4a;">Standard</span>
<div class="card" style="left:962.19px;top:714.28px;width:150.5px;height:41.3px;background:#ffffff;border:1px solid #bfe6df"><div class="bar" style="background:#cdebe6"></div></div>
<span class="t" style="left:982.6px;top:718.00px;font-size:14.1px;font-weight:700;color:#27403b;">9am - 6pm</span>
<span class="t" style="left:982.6px;top:736.00px;font-size:14.0px;color:#3b4e4a;">Standard</span>
<div class="card" style="left:1121.42px;top:714.28px;width:150.5px;height:41.3px;background:#ffffff;border:1px solid #bfe6df"><div class="bar" style="background:#cdebe6"></div></div>
<span class="t" style="left:1141.8px;top:718.00px;font-size:14.1px;font-weight:700;color:#27403b;">9am - 6pm</span>
<span class="t" style="left:1141.8px;top:736.00px;font-size:14.0px;color:#3b4e4a;">Standard</span>
<div class="card" style="left:1280.65px;top:714.28px;width:150.5px;height:41.3px;background:#ffffff;border:1px solid #bfe6df"><div class="bar" style="background:#cdebe6"></div></div>
<span class="t" style="left:1301.1px;top:718.00px;font-size:14.1px;font-weight:700;color:#27403b;">9am - 6pm</span>
<span class="t" style="left:1301.1px;top:736.00px;font-size:14.0px;color:#3b4e4a;">Standard</span>
<div class="card" style="left:325.20px;top:785.95px;width:151.1px;height:41.3px;background:#fff3e9;border:1px solid #fff3e9"><div class="bar" style="background:#ff9a3c"></div></div>
<span class="t" style="left:345.6px;top:790.00px;font-size:14.1px;font-weight:700;color:#5c2d0d;">7am - 3pm</span>
<span class="t" style="left:345.6px;top:808.00px;font-size:14.0px;color:#6f4a2c;">Late</span>
<div class="card" style="left:484.50px;top:785.95px;width:150.5px;height:41.3px;background:#e9e9e9;border:1px solid #9f9f9f"><div class="bar" style="background:#a9a9a9"></div></div>
<span class="t" style="left:504.9px;top:790.00px;font-size:14.1px;font-weight:700;color:#111;">All day</span>
<span class="t" style="left:504.9px;top:808.00px;font-size:14.0px;color:#222;">Time off</span>
<svg class="a" style="left:615.50px;top:806.95px;" width="15" height="15" viewBox="0 0 15 15" fill="none"><circle cx="7.5" cy="7.5" r="6.6" fill="#fafafa" stroke="#9a9a9a" stroke-width="1"/><path d="M7.5 7.5 V3.2 M7.5 7.5 L5 9.2" stroke="#777" stroke-width="1" stroke-linecap="round"/></svg>
<div class="card" style="left:643.73px;top:785.95px;width:150.5px;height:41.3px;background:#ffffff;border:1px solid #fdca9f"><div class="bar" style="background:#ffc793"></div></div>
<span class="t" style="left:664.1px;top:790.00px;font-size:14.1px;font-weight:700;color:#5c2d0d;">7am - 3pm</span>
<span class="t" style="left:664.1px;top:808.00px;font-size:14.0px;color:#6f4a2c;">Late</span>
<div class="card" style="left:802.96px;top:785.95px;width:150.5px;height:41.3px;background:#ffffff;border:1px solid #fdca9f"><div class="bar" style="background:#ffc793"></div></div>
<span class="t" style="left:823.4px;top:790.00px;font-size:14.1px;font-weight:700;color:#5c2d0d;">7am - 3pm</span>
<span class="t" style="left:823.4px;top:808.00px;font-size:14.0px;color:#6f4a2c;">Late</span>
<div class="card" style="left:962.19px;top:785.95px;width:150.5px;height:41.3px;background:#ffffff;border:1px solid #fdca9f"><div class="bar" style="background:#ffc793"></div></div>
<span class="t" style="left:982.6px;top:790.00px;font-size:14.1px;font-weight:700;color:#5c2d0d;">7am - 3pm</span>
<span class="t" style="left:982.6px;top:808.00px;font-size:14.0px;color:#6f4a2c;">Late</span>
<div class="card" style="left:1439.88px;top:785.95px;width:150.5px;height:41.3px;background:#ffffff;border:1px solid #fdca9f"><div class="bar" style="background:#ffc793"></div></div>
<span class="t" style="left:1460.3px;top:790.00px;font-size:14.1px;font-weight:700;color:#5c2d0d;">7am - 3pm</span>
<span class="t" style="left:1460.3px;top:808.00px;font-size:14.0px;color:#6f4a2c;">Late</span>
<div class="card" style="left:803.36px;top:642.01px;width:151px;height:20.2px;background:#fff;border:1.2px solid #5cc2b6;border-radius:5px"><div class="a" style="left:3.6px;top:3.4px;width:7px;height:11px;border-radius:3.5px;background:#58bfb3"></div></div>
<span class="t" style="left:823.4px;top:644.00px;font-size:14.2px;color:#284540;letter-spacing:0.4px;-webkit-text-stroke:0.35px #284540;">9am - 12pm</span>
<div class="card" style="left:803.36px;top:664.71px;width:151px;height:19px;background:#e9e9e9;border:1px solid #bdbdbd;border-radius:5px"><div class="a" style="left:3.6px;top:3.2px;width:7px;height:11px;border-radius:3.5px;background:#a9a9a9"></div></div>
<span class="t" style="left:823.4px;top:666.00px;font-size:14.0px;font-weight:700;color:#111;">12pm - 12am</span>
<svg class="a" style="left:936.16px;top:664.31px;" width="15" height="16" viewBox="0 0 15 16" fill="none"><path d="M7.3 5.2 C7.5 8.2 7.3 10.8 6.9 13.2" stroke="#8b5527" stroke-width="2.1" stroke-linecap="round"/><path d="M6.4 8.4 L8 8 M6.3 10.8 L7.9 10.4" stroke="#b77a45" stroke-width=".7"/><path d="M7.2 3.4 C4.6 1.8 1.6 2.6 0.4 6.6 C1.8 5.4 3.2 5 4.4 5.4 C3.2 6.4 2.8 7.6 2.8 8.8 C4.2 6.8 5.6 5.6 7.2 4.8Z" fill="#4cb53b" stroke="#2f6b2a" stroke-width=".45"/><path d="M7.2 3.4 C9.8 1.8 12.8 2.6 14 6.6 C12.6 5.4 11.2 5 10 5.4 C11.2 6.4 11.6 7.6 11.6 8.8 C10.2 6.8 8.8 5.6 7.2 4.8Z" fill="#4cb53b" stroke="#2f6b2a" stroke-width=".45"/><path d="M7.2 4.4 C6.4 2.2 4.6 1 2.6 1 C5 -0.1 9.4 -0.1 11.8 1 C9.8 1 8 2.2 7.2 4.4Z" fill="#45a836" stroke="#2f6b2a" stroke-width=".45"/><path d="M5.2 1.6 L5.9 5.2 M9.2 1.6 L8.5 5.2" stroke="#24511f" stroke-width=".6"/></svg>
<svg class="a" style="left:444.00px;top:379.00px;" width="24" height="24" viewBox="0 0 24 24" fill="none"><path d="M5.3 4.6 C5.3 2.1 9.5 2.1 9.5 4.6 L9.5 8.6 C10 7.1 12.3 7.1 12.7 8.7 C13.3 7.1 15.7 7.1 16.2 9 C16.9 7.7 19.4 7.9 19.9 9.8 C20.7 12.2 20.6 15 19.4 17 L17.6 19.6 L16.9 21.6 L14.9 21.6 L13.7 20.5 L12.5 21.6 L9.3 21.6 L7.4 19.5 L2.5 13.6 C1.5 12.3 2.7 10.3 4.4 11.3 L5.3 12.3 Z" fill="#fff" stroke="#111" stroke-width="1.15" stroke-linejoin="round"/><path d="M11.2 14.4 V18.3 M13.5 14.4 V18.3 M16.1 14.4 V18.3" stroke="#333" stroke-width=".95" stroke-linecap="round"/></svg>
</div></div></body></html>
